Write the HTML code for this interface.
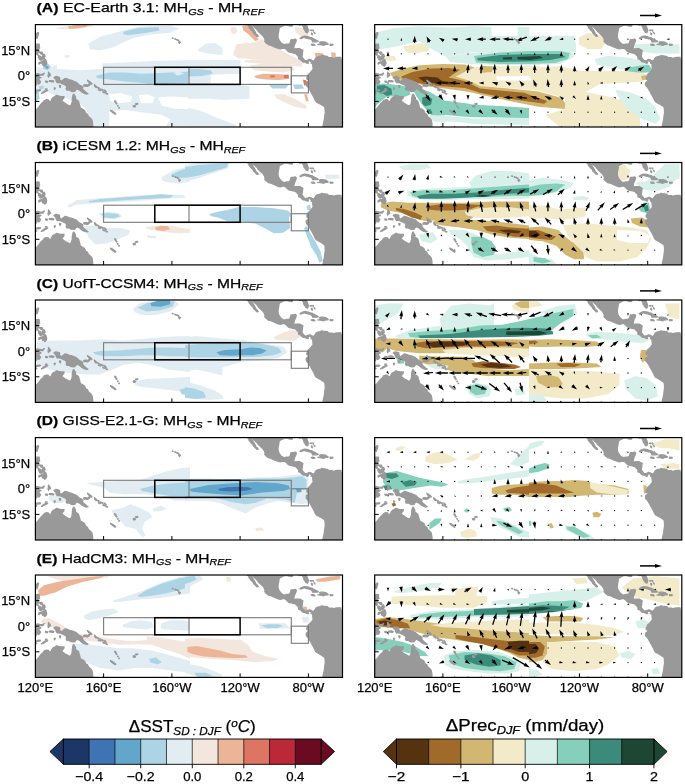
<!DOCTYPE html><html><head><meta charset="utf-8"><style>html,body{margin:0;padding:0;background:#fff}svg{display:block}text{font-family:"Liberation Sans",sans-serif;fill:#000;stroke:#000;stroke-width:0.25px}.tx{filter:grayscale(1)}</style></head><body>
<svg width="685" height="784" viewBox="0 0 685 784">
<defs><clipPath id="pc"><rect x="0" y="0" width="307.1" height="102.4"/></clipPath>
<g id="land" fill="#999999" stroke="#999999" stroke-width="1.3" stroke-linejoin="round">
<path d="M-1.7 85.0 L0.0 85.0 L1.7 84.5 L3.8 81.9 L5.1 80.2 L6.1 79.0 L7.7 77.7 L8.9 75.9 L11.1 75.1 L12.8 75.4 L14.0 76.8 L15.7 76.6 L16.5 74.4 L17.6 73.0 L18.4 72.4 L19.6 72.0 L21.3 70.8 L23.0 71.3 L24.7 71.7 L26.8 72.0 L28.7 72.0 L28.2 73.7 L27.1 74.8 L26.4 76.5 L28.2 77.8 L29.9 79.0 L31.6 79.9 L33.3 81.1 L35.1 81.2 L36.2 79.4 L36.9 76.8 L36.9 74.2 L37.2 72.5 L37.7 70.3 L38.4 69.5 L39.2 70.8 L40.1 72.5 L40.1 74.8 L41.8 75.6 L43.2 76.8 L43.5 78.5 L44.4 81.1 L44.9 83.6 L46.9 84.5 L49.1 86.0 L50.3 88.7 L52.0 89.6 L52.9 91.8 L55.4 93.9 L56.6 95.6 L57.2 99.0 L57.3 102.4 L57.3 104.1 L-1.7 104.1Z"/>
<path d="M18.6 52.9 L20.5 51.9 L23.0 52.4 L24.2 52.9 L24.1 55.0 L25.6 56.8 L26.4 56.3 L28.2 55.0 L29.9 53.8 L31.6 54.3 L34.1 55.3 L35.8 55.6 L38.4 56.7 L40.9 57.7 L42.7 59.4 L44.0 60.6 L46.1 61.4 L47.4 62.6 L46.9 64.0 L48.6 66.0 L50.3 67.4 L51.5 68.6 L52.5 69.1 L51.2 69.5 L48.6 68.6 L46.4 67.4 L44.7 65.7 L41.8 64.2 L40.1 65.4 L39.6 66.6 L37.5 66.9 L35.8 66.7 L33.3 65.2 L31.6 65.5 L30.7 64.0 L31.6 63.1 L30.4 60.6 L27.3 59.2 L24.7 58.0 L23.0 57.7 L21.8 58.0 L20.5 56.0 L22.7 55.3 L20.8 55.0 L19.3 53.8Z"/>
<path d="M48.3 60.6 L49.5 60.1 L51.2 60.2 L52.4 60.6 L53.4 59.6 L54.6 58.5 L55.1 58.9 L54.3 60.2 L53.4 61.1 L52.0 61.8 L50.3 61.6 L48.6 61.6Z"/>
<path d="M52.0 55.6 L53.7 56.7 L55.4 57.9 L56.6 59.1 L56.3 59.6 L54.6 58.7 L52.9 57.0Z"/>
<path d="M59.0 60.1 L60.6 61.4 L61.2 62.8 L60.7 63.0 L59.4 61.8Z"/>
<path d="M62.1 62.5 L63.8 63.5 L63.6 64.0 L62.3 63.1Z"/>
<path d="M64.8 64.2 L67.9 65.4 L67.6 65.9 L64.8 64.7Z"/>
<path d="M63.1 64.9 L65.2 65.7 L64.7 66.0 L63.0 65.4Z"/>
<path d="M67.6 67.1 L69.6 67.8 L69.3 68.3 L67.6 67.8Z"/>
<path d="M69.3 65.4 L70.8 67.1 L70.5 67.6 L69.1 66.0Z"/>
<path d="M70.5 68.6 L72.2 69.3 L71.8 69.6 L70.5 69.1Z"/>
<path d="M79.3 76.1 L80.5 76.8 L80.5 77.8 L79.5 77.5Z"/>
<path d="M80.5 78.3 L81.6 79.0 L81.2 79.5 L80.5 78.8Z"/>
<path d="M82.1 81.2 L82.7 81.1 L82.7 81.6 L82.2 81.6Z"/>
<path d="M83.4 83.1 L84.1 83.1 L83.9 83.6 L83.4 83.5Z"/>
<path d="M75.1 85.7 L76.8 86.4 L79.3 88.2 L80.4 89.3 L79.7 89.6 L77.6 88.2 L75.4 86.4Z"/>
<path d="M97.8 81.2 L99.0 80.7 L100.1 81.4 L99.6 82.3 L98.1 82.3Z"/>
<path d="M100.1 79.2 L102.2 78.8 L102.4 79.5 L100.7 80.0Z"/>
<path d="M1.0 19.6 L2.6 19.5 L3.8 19.6 L3.8 22.2 L4.3 23.4 L2.7 24.2 L2.6 26.5 L3.8 27.3 L5.1 27.6 L6.8 27.6 L7.2 29.0 L6.0 29.7 L5.1 28.7 L4.3 27.8 L2.9 27.5 L1.7 27.8 L1.0 26.8 L1.0 25.9 L0.0 25.6 L-0.3 23.4 L0.5 23.6 L0.7 21.3Z"/>
<path d="M0.5 28.2 L2.0 28.3 L2.6 29.7 L1.9 30.4 L0.9 29.5Z"/>
<path d="M7.3 29.9 L9.0 29.9 L9.7 32.1 L8.7 32.4 L7.5 31.4Z"/>
<path d="M7.5 31.6 L8.7 32.4 L9.0 33.8 L8.2 34.1 L7.3 32.8Z"/>
<path d="M3.2 30.9 L4.4 31.4 L5.5 32.1 L4.3 33.3 L3.2 33.3Z"/>
<path d="M4.8 32.6 L6.0 33.3 L5.5 35.7 L4.1 34.8 L4.4 33.3Z"/>
<path d="M6.7 31.9 L7.0 32.9 L6.0 35.0 L5.6 34.3 L6.5 32.8Z"/>
<path d="M6.5 33.8 L7.8 34.0 L7.7 34.8 L6.5 34.6Z"/>
<path d="M3.4 39.3 L3.6 37.9 L6.0 37.2 L7.2 36.5 L8.9 35.8 L9.4 34.5 L10.4 35.3 L11.3 38.4 L10.7 40.4 L9.4 41.6 L9.0 40.8 L7.2 40.3 L6.5 38.4 L5.1 38.4 L3.8 39.4Z"/>
<path d="M-1.7 33.8 L-0.3 31.9 L-0.9 33.3 L-3.4 35.8 L-4.8 36.9 L-4.1 35.5Z"/>
<path d="M0.2 11.9 L1.2 13.7 L1.7 13.7 L2.7 10.2 L3.2 8.5 L2.6 8.0 L1.7 8.5 L0.2 11.1Z"/>
<path d="M0.0 49.8 L1.5 49.0 L4.3 49.5 L6.8 49.7 L8.9 48.5 L7.7 50.5 L5.5 50.5 L2.6 50.3 L1.0 51.0 L0.2 52.6 L2.0 52.9 L4.6 52.6 L5.6 52.9 L3.1 54.3 L5.1 57.2 L3.9 59.1 L2.7 59.4 L1.9 56.3 L0.7 56.1 L1.5 57.5 L0.9 60.6 L-0.7 60.8 L-1.0 57.2 L-2.0 56.0 L-1.2 52.9 L-0.3 50.9Z"/>
<path d="M13.0 47.4 L13.8 48.6 L14.8 49.5 L14.0 50.5 L15.2 50.7 L13.6 51.7 L13.0 52.6 L12.6 50.9 L13.1 49.5Z"/>
<path d="M14.0 56.1 L16.2 56.0 L18.4 56.5 L18.1 57.3 L15.4 57.0 L14.0 56.8Z"/>
<path d="M10.2 56.5 L12.3 56.8 L11.9 57.7 L10.4 57.5Z"/>
<path d="M6.0 68.8 L7.7 67.4 L9.4 66.2 L12.3 65.5 L11.9 66.0 L8.9 67.6 L7.2 68.6Z"/>
<path d="M-0.3 65.9 L1.7 65.5 L3.9 65.2 L5.1 65.4 L4.8 65.9 L2.6 66.4 L0.0 66.4Z"/>
<path d="M-1.7 67.4 L0.0 67.2 L1.4 68.4 L0.5 68.8 L-1.4 67.9Z"/>
<path d="M10.1 64.2 L11.6 64.2 L11.1 64.7 L10.1 64.7Z"/>
<path d="M18.8 63.3 L20.0 63.5 L19.1 64.9Z"/>
<path d="M24.2 60.8 L25.3 61.1 L24.9 62.8 L24.1 62.1Z"/>
<path d="M-5.1 39.3 L-3.8 40.3 L-1.2 42.2 L-2.9 43.3 L-2.4 44.0 L-3.8 45.7 L-2.6 49.5 L-1.7 49.8 L-2.4 50.9 L-5.1 52.9 L-6.8 58.0 L-8.5 58.0Z"/>
<path d="M143.5 16.7 L145.0 17.6 L144.0 18.9 L143.3 17.7Z"/>
<path d="M142.1 15.4 L143.3 15.7 L143.0 16.0 L142.3 15.7Z"/>
<path d="M141.1 15.0 L142.1 15.0 L141.9 15.3 L141.1 15.2Z"/>
<path d="M139.4 14.3 L140.1 14.2 L140.6 14.8 L139.7 14.8Z"/>
<path d="M136.8 13.5 L137.5 13.3 L137.7 13.8 L137.2 13.8Z"/>
<path d="M211.7 -1.0 L211.9 0.0 L213.3 1.2 L213.8 3.1 L214.8 3.9 L215.8 5.5 L217.5 6.8 L218.2 8.5 L219.2 9.4 L221.5 11.8 L222.8 11.6 L222.0 10.2 L220.8 9.7 L219.7 7.2 L217.9 4.3 L217.0 2.6 L216.2 0.9 L214.5 -0.5 L213.9 -1.0Z"/>
<path d="M217.0 -1.0 L218.0 1.7 L220.1 3.6 L221.8 5.1 L223.2 7.2 L224.7 8.5 L227.8 11.4 L229.3 14.0 L229.8 16.2 L229.3 16.7 L230.5 18.1 L232.9 20.0 L235.6 20.7 L238.9 22.2 L242.3 23.6 L244.8 24.4 L247.4 23.6 L249.1 23.7 L250.8 24.7 L252.2 26.3 L253.7 27.5 L255.9 27.8 L257.6 28.3 L259.3 28.7 L260.2 29.0 L261.0 29.7 L261.9 30.7 L263.1 32.1 L263.3 33.3 L263.3 34.3 L264.4 34.6 L265.0 34.8 L266.2 35.8 L266.8 36.7 L268.0 37.4 L269.6 37.4 L270.9 38.2 L272.3 38.7 L273.0 38.2 L272.3 37.2 L273.8 36.0 L275.4 36.7 L276.2 37.7 L275.7 38.6 L276.7 38.7 L277.4 40.1 L277.4 41.8 L277.8 44.4 L277.2 45.4 L276.0 46.8 L275.0 48.1 L273.8 49.2 L272.8 50.0 L272.3 51.7 L271.4 53.1 L271.6 54.6 L273.0 55.1 L273.3 56.0 L272.5 57.0 L270.9 58.2 L270.8 59.9 L271.4 61.4 L273.1 63.0 L274.0 64.7 L275.2 66.6 L276.0 68.3 L277.1 70.0 L277.9 71.7 L279.1 73.9 L279.6 75.3 L281.0 77.3 L283.2 78.5 L285.8 79.9 L287.7 81.2 L289.4 82.4 L289.7 84.5 L289.9 87.9 L289.4 91.3 L289.0 94.7 L288.3 98.1 L287.7 100.7 L287.5 104.1 L308.8 104.1 L308.8 37.5 L307.1 36.7 L305.4 34.3 L303.9 34.0 L303.7 32.9 L302.0 32.9 L299.9 33.1 L298.6 34.0 L296.9 33.1 L295.2 33.1 L293.1 33.1 L292.1 31.7 L290.4 31.7 L289.7 31.4 L287.8 31.2 L286.3 30.9 L284.9 31.9 L283.2 31.9 L281.8 32.4 L280.5 33.3 L279.5 35.0 L278.4 36.5 L277.4 36.4 L275.5 35.2 L273.8 34.8 L272.1 35.7 L270.4 36.2 L269.2 35.8 L268.0 34.3 L266.8 32.8 L266.5 31.1 L267.0 29.9 L267.0 28.2 L267.5 25.8 L266.2 25.1 L264.4 24.1 L262.7 24.1 L260.2 24.2 L259.0 24.4 L258.3 23.6 L258.8 21.3 L259.3 19.6 L260.2 17.9 L260.9 15.4 L260.0 14.5 L258.5 14.7 L255.7 15.0 L255.2 16.6 L254.7 18.3 L253.5 19.5 L251.3 19.5 L249.1 20.1 L247.4 19.5 L245.7 18.4 L244.8 17.2 L243.5 15.4 L242.6 12.8 L242.6 10.2 L243.1 7.7 L243.6 5.1 L243.5 3.9 L244.8 2.6 L247.4 1.4 L249.1 0.5 L250.8 0.3 L252.5 0.7 L254.2 1.4 L255.9 1.5 L256.9 1.4 L257.1 0.0 L257.6 -0.7 L259.3 -0.9 L261.0 -0.7 L262.7 -0.7 L264.4 0.5 L266.2 0.0 L267.0 0.7 L268.2 2.6 L268.5 4.3 L269.6 6.0 L270.8 7.7 L272.1 8.2 L272.8 6.8 L272.8 5.1 L272.0 2.6 L271.1 0.7 L270.8 -1.7 L216.7 -1.7Z"/>
<path d="M264.6 13.8 L266.2 12.5 L267.9 11.9 L269.6 11.6 L271.3 11.8 L273.0 12.1 L274.7 13.0 L276.4 13.1 L278.1 14.2 L279.8 15.0 L280.5 15.4 L282.9 16.7 L282.4 17.1 L280.3 17.2 L277.2 17.2 L276.9 15.9 L275.5 14.5 L274.2 14.3 L272.1 13.7 L269.9 13.3 L269.6 12.6 L267.2 13.3 L265.6 14.0Z"/>
<path d="M282.4 19.8 L284.9 20.1 L286.6 20.3 L288.3 20.8 L289.2 20.1 L291.7 19.8 L292.8 19.5 L291.7 18.6 L290.2 17.6 L287.5 17.2 L285.3 17.2 L284.2 17.7 L285.4 18.8 L284.1 19.6Z"/>
<path d="M275.9 19.8 L278.1 19.6 L279.5 20.5 L278.4 20.8 L277.2 20.7 L275.9 20.1Z"/>
<path d="M294.8 19.6 L297.5 19.8 L297.4 20.5 L294.8 20.7Z"/>
<path d="M276.0 8.4 L276.9 8.9 L276.9 10.2 L276.2 9.7Z"/>
<path d="M277.6 5.3 L278.1 6.0 L277.8 6.5 L277.4 6.0Z"/>
<path d="M274.7 5.6 L276.4 5.6 L276.0 6.0 L274.7 5.8Z"/>
<path d="M278.6 7.7 L279.5 8.5 L279.6 9.0 L279.1 8.4Z"/>
<path d="M303.9 32.8 L305.4 32.8 L305.4 34.0 L303.9 34.0Z"/>
</g>
<g id="boxes" fill="none">
<rect x="68.2" y="42.7" width="187.7" height="17.1" stroke="#7a7a7a" stroke-width="1.1"/>
<line x1="153.6" y1="42.7" x2="153.6" y2="59.7" stroke="#7a7a7a" stroke-width="1.1"/>
<rect x="255.9" y="51.2" width="17.1" height="17.1" stroke="#7a7a7a" stroke-width="1.1"/>
<rect x="119.4" y="42.7" width="85.3" height="17.1" stroke="#000" stroke-width="1.5"/>
</g>
<path id="ticks" d="M68.2 102.4v-4 M136.5 102.4v-4 M204.7 102.4v-4 M273.0 102.4v-4 M0 25.6h4 M0 51.2h4 M0 76.8h4" stroke="#000" stroke-width="1" fill="none"/>
<marker id="ah" viewBox="0 0 10 10" refX="10" refY="5" markerWidth="4" markerHeight="3" orient="auto"><path d="M0 0L10 5L0 10z"/></marker>
</defs>
<g transform="translate(35.4 24.6)">
<g clip-path="url(#pc)">
<path d="M53.0 18.8 L64.7 12.2 L88.0 5.9 L104.4 1.9 L134.7 1.2 L144.1 3.6 L134.7 8.2 L116.1 9.9 L99.7 12.9 L88.0 17.6 L78.7 22.3 L64.7 25.8 L54.2 24.6Z" fill="#e2edf3"/>
<path d="M88.0 7.1 L102.0 3.6 L123.1 2.4 L124.2 5.9 L111.4 8.2 L92.7 10.6 L88.0 9.4Z" fill="#acd4e5"/>
<path d="M20.3 3.6 L29.6 1.9 L55.3 0.1 L57.7 1.9 L43.7 3.8 L27.3 4.7Z" fill="#f3e6dc"/>
<path d="M32.0 1.9 L41.3 0.5 L53.0 0.1 L50.7 2.4 L41.3 3.8 L34.3 4.3Z" fill="#ecb597"/>
<path d="M29.2 30.9 L33.8 30.4 L34.3 32.8 L29.6 33.2Z" fill="#f3e6dc"/>
<path d="M-1.4 42.2 L12.3 44.5 L21.4 40.0 L44.1 41.1 L66.9 38.8 L94.2 37.7 L117.0 36.5 L154.6 35.4 L154.6 101.4 L126.1 101.4 L101.1 99.2 L73.8 101.4 L66.9 101.4 L55.5 101.4 L51.0 85.5 L44.1 78.7 L32.8 74.1 L21.4 71.8 L12.3 67.3 L-1.4 67.3Z" fill="#e2edf3"/>
<path d="M73.8 69.6 L85.1 68.4 L96.5 71.8 L95.4 77.5 L82.9 78.7 L74.9 76.4Z" fill="#ffffff"/>
<path d="M103.4 70.7 L112.5 69.6 L119.3 73.0 L117.0 78.7 L105.6 78.7Z" fill="#ffffff"/>
<path d="M122.7 73.0 L135.2 71.8 L154.6 73.0 L154.6 84.4 L139.8 84.4 L126.1 80.9Z" fill="#ffffff"/>
<path d="M73.8 86.6 L89.7 85.5 L107.9 87.8 L126.1 90.1 L135.2 94.6 L130.7 101.4 L73.8 101.4Z" fill="#ffffff"/>
<path d="M21.4 37.7 L44.1 40.0 L66.9 38.1 L66.9 44.5 L44.1 45.6 L21.4 44.5Z" fill="#ffffff"/>
<path d="M60.1 51.3 L73.8 47.9 L89.7 47.9 L105.6 49.1 L119.3 48.6 L154.6 46.8 L154.6 58.2 L139.8 58.6 L119.3 60.5 L105.6 58.2 L89.7 57.0 L73.8 54.8 L62.4 53.6Z" fill="#acd4e5"/>
<path d="M137.5 47.9 L144.4 47.2 L148.9 49.1 L142.1 50.9Z" fill="#e2edf3"/>
<path d="M7.7 40.0 L12.3 38.8 L15.7 42.2 L12.3 45.6 L7.7 44.5Z" fill="#acd4e5"/>
<path d="M9.5 41.8 L12.3 41.1 L13.6 43.4 L11.1 44.5Z" fill="#62a7cb"/>
<path d="M-1.4 68.4 L3.2 67.3 L4.3 74.1 L0.9 76.4 L-1.4 76.4Z" fill="#acd4e5"/>
<path d="M3.2 61.6 L7.7 60.9 L8.8 63.9 L4.3 65.0Z" fill="#acd4e5"/>
<path d="M152.6 35.4 L205.0 35.4 L206.1 60.5 L214.1 61.6 L214.1 74.1 L186.8 75.3 L175.4 74.1 L152.6 74.1Z" fill="#e2edf3"/>
<path d="M175.4 50.2 L205.0 49.1 L205.0 59.3 L175.4 59.3Z" fill="#ffffff"/>
<path d="M152.6 74.6 L175.4 74.6 L186.8 78.7 L198.1 79.8 L207.3 80.9 L209.5 101.4 L200.4 101.4 L175.4 92.3 L152.6 82.1Z" fill="#ffffff"/>
<path d="M152.6 83.2 L166.3 86.6 L182.2 93.5 L200.4 100.3 L200.4 101.9 L152.6 101.9Z" fill="#e2edf3"/>
<path d="M152.6 44.5 L161.7 44.5 L175.4 45.6 L177.7 49.1 L166.3 51.3 L152.6 51.8Z" fill="#acd4e5"/>
<path d="M233.4 60.0 L243.7 59.3 L252.8 60.5 L250.5 63.9 L236.9 63.9Z" fill="#acd4e5"/>
<path d="M257.4 60.0 L266.5 60.0 L268.7 63.9 L259.6 64.6Z" fill="#acd4e5"/>
<path d="M214.1 41.1 L227.8 38.8 L243.7 40.0 L257.4 41.1 L259.6 45.6 L248.2 47.9 L232.3 46.8 L218.6 45.6Z" fill="#f3e6dc"/>
<path d="M209.5 35.4 L266.5 35.4 L266.5 42.2 L243.7 40.0 L220.9 38.8 L209.5 37.7Z" fill="#f3e6dc"/>
<path d="M218.6 51.3 L227.8 49.1 L239.1 49.5 L252.8 50.2 L253.9 54.1 L243.7 55.4 L230.0 54.8 L220.9 53.6Z" fill="#ecb597"/>
<path d="M234.6 50.9 L239.1 50.7 L239.6 52.7 L235.0 52.9Z" fill="#dc7561"/>
<path d="M248.2 50.4 L253.3 50.2 L253.3 53.6 L248.7 53.6Z" fill="#dc7561"/>
<path d="M267.6 54.8 L271.0 55.9 L272.2 60.5 L268.7 60.9Z" fill="#dc7561"/>
<path d="M239.1 69.6 L248.2 69.6 L259.6 74.1 L271.0 80.9 L271.0 84.4 L259.6 82.1 L248.2 77.5 L240.3 73.0Z" fill="#f3e6dc"/>
<path d="M268.7 69.6 L271.5 69.6 L273.3 76.4 L270.6 76.8Z" fill="#ecb597"/>
<path d="M195.1 2.9 L199.8 1.9 L202.2 7.1 L198.7 9.9 L195.8 8.2Z" fill="#f3e6dc"/>
<path d="M206.8 1.2 L213.8 0.1 L219.7 7.1 L223.2 15.3 L219.7 16.4 L212.7 9.4 L208.0 5.9Z" fill="#ecb597"/>
<path d="M197.5 30.4 L201.0 19.9 L206.8 18.8 L219.7 17.6 L226.7 14.1 L233.7 18.8 L243.0 23.4 L250.0 28.1 L259.4 32.8 L266.4 36.3 L271.1 36.3 L275.7 39.8 L268.7 38.6 L259.4 37.4 L250.0 36.3 L243.0 37.4 L238.4 36.3 L226.7 35.1 L217.3 35.1 L210.3 33.9 L203.3 33.9Z" fill="#f3e6dc"/>
<path d="M259.4 2.4 L271.1 3.6 L273.4 10.6 L266.4 11.8 L260.5 8.2Z" fill="#f3e6dc"/>
<path d="M279.2 28.1 L287.4 28.6 L289.7 32.3 L280.4 33.2Z" fill="#ecb597"/>
<path d="M295.6 27.6 L300.3 28.1 L300.3 32.8 L296.3 32.8Z" fill="#ecb597"/>
<path d="M162.4 24.6 L170.6 18.8 L180.0 18.3 L187.0 23.4 L187.0 30.4 L175.3 29.3 L163.6 26.9Z" fill="#e2edf3"/>
<use href="#land"/>
<use href="#boxes"/>
</g>
<use href="#ticks"/>
<rect x="0" y="0" width="307.1" height="102.4" fill="none" stroke="#000" stroke-width="1.2"/>
</g>
<g transform="translate(374.7 24.6)">
<g clip-path="url(#pc)">
<path d="M28.7 22.0 L44.6 18.6 L55.9 20.9 L53.6 26.6 L40.0 28.8 L31.0 27.7Z" fill="#f3eac9"/>
<path d="M9.5 32.2 L19.7 31.1 L21.9 35.6 L12.9 36.7Z" fill="#f3eac9"/>
<path d="M-0.7 8.4 L17.3 3.9 L44.3 1.7 L78.3 2.8 L99.3 1.4 L116.8 2.4 L116.8 11.1 L143.1 11.1 L143.1 2.4 L154.8 2.4 L154.8 11.1 L199.3 11.1 L201.3 19.4 L201.3 27.4 L99.3 27.4 L71.3 32.4 L55.3 23.4 L44.3 16.4 L21.9 22.0 L8.3 24.3 L1.6 24.3Z" fill="#d7f0ea"/>
<path d="M71.3 32.4 L95.3 28.4 L125.3 25.4 L155.3 23.4 L185.3 23.4 L197.3 25.4 L199.3 32.4 L185.3 39.4 L155.3 40.4 L125.3 40.4 L95.3 39.4 L75.3 37.4Z" fill="#d7f0ea"/>
<path d="M99.3 31.4 L125.3 27.9 L155.3 26.4 L185.3 26.4 L195.3 28.4 L193.3 34.4 L180.3 38.4 L155.3 39.4 L125.3 39.4 L101.3 37.9Z" fill="#86cfbb"/>
<path d="M102.3 33.4 L125.3 30.4 L155.3 29.4 L185.3 29.4 L191.3 32.4 L175.3 35.4 L155.3 36.9 L125.3 37.4 L103.3 35.9Z" fill="#3c8b7a"/>
<path d="M128.3 32.9 L137.3 32.4 L137.3 34.9 L128.3 34.9Z" fill="#1d4634"/>
<path d="M142.3 32.4 L165.3 31.4 L168.3 33.4 L155.3 35.4 L143.3 34.9Z" fill="#1d4634"/>
<path d="M-0.7 59.8 L8.1 59.0 L18.3 59.8 L28.5 61.2 L34.3 64.2 L35.8 70.0 L28.5 72.9 L25.6 75.8 L18.3 71.5 L11.0 72.9 L2.2 80.2 L-0.7 84.6Z" fill="#86cfbb"/>
<path d="M38.7 65.6 L46.0 64.2 L54.8 67.1 L62.1 71.5 L69.4 75.8 L81.1 77.3 L92.7 78.8 L99.3 80.2 L125.3 81.4 L154.3 83.4 L154.3 93.4 L125.3 92.9 L99.3 92.6 L86.9 91.9 L72.3 90.4 L57.7 91.9 L54.8 89.0 L47.5 80.2 L41.6 71.5Z" fill="#86cfbb"/>
<path d="M54.8 90.4 L72.3 91.2 L86.9 92.6 L99.3 94.1 L125.3 93.4 L154.3 93.4 L154.3 100.4 L99.3 99.4 L86.9 97.7 L72.3 97.0 L60.6 97.7 L56.2 94.8Z" fill="#d7f0ea"/>
<path d="M2.2 61.2 L9.5 60.5 L16.8 64.2 L17.5 70.0 L12.4 71.5 L6.6 68.5 L2.2 67.1Z" fill="#3c8b7a"/>
<path d="M47.5 72.9 L53.3 71.5 L57.7 74.4 L56.2 80.2 L50.4 81.7 L47.5 78.8Z" fill="#3c8b7a"/>
<path d="M51.9 84.6 L56.2 84.6 L57.7 89.0 L53.3 89.7Z" fill="#3c8b7a"/>
<path d="M78.3 45.4 L94.3 42.8 L112.3 41.7 L135.3 41.4 L154.3 41.4 L170.3 42.4 L185.3 41.4 L205.3 46.4 L245.3 46.4 L267.3 47.4 L275.3 53.4 L265.3 57.4 L225.3 59.4 L205.3 70.4 L190.3 73.4 L165.3 66.4 L134.3 63.4 L105.3 61.4 L94.3 55.9 L80.8 51.9Z" fill="#f3eac9"/>
<path d="M190.3 73.4 L205.3 70.4 L245.3 75.4 L265.3 85.4 L265.3 102.4 L185.3 102.4 L170.3 90.4 L190.3 84.4Z" fill="#f3eac9"/>
<path d="M121.3 51.9 L155.3 51.4 L156.3 55.8 L122.3 55.8Z" fill="#ffffff"/>
<path d="M15.1 48.5 L28.7 44.0 L44.6 40.6 L67.2 39.5 L89.8 39.9 L100.0 42.8 L89.8 47.4 L80.8 51.9 L94.3 55.9 L105.3 61.4 L134.3 63.9 L163.7 66.8 L187.1 73.4 L190.7 79.2 L190.0 84.3 L163.7 82.1 L134.5 76.3 L105.3 69.9 L94.3 67.4 L74.0 64.3 L55.9 62.1 L40.0 58.7 L26.5 55.3 L17.4 51.9Z" fill="#d2b772"/>
<path d="M105.3 41.2 L118.3 41.9 L117.3 47.4 L105.3 48.4Z" fill="#d2b772"/>
<path d="M26.5 51.9 L37.8 47.4 L55.9 44.0 L74.0 43.5 L85.3 45.1 L78.5 49.6 L74.0 53.0 L89.8 56.4 L105.3 63.9 L149.1 68.2 L172.5 76.3 L169.5 79.2 L134.5 74.1 L105.3 68.2 L90.3 63.4 L74.0 62.1 L55.9 60.9 L40.0 57.6 L28.7 54.8Z" fill="#a06a2b"/>
<path d="M43.4 53.0 L51.3 51.9 L62.7 53.0 L67.2 56.4 L60.4 58.7 L49.1 57.1Z" fill="#553210"/>
<path d="M62.7 55.7 L78.5 57.6 L85.3 59.4 L74.0 59.8 L64.9 58.7Z" fill="#553210"/>
<path d="M219.9 34.5 L233.5 31.1 L256.1 33.3 L272.0 37.9 L276.5 44.7 L267.4 48.0 L251.6 45.8 L235.8 42.4 L222.2 40.1Z" fill="#d7f0ea"/>
<path d="M251.6 43.5 L262.9 41.3 L274.2 40.1 L277.6 44.7 L274.2 48.0 L262.9 48.0 L253.9 46.9Z" fill="#86cfbb"/>
<path d="M258.4 19.8 L281.0 18.6 L304.8 19.8 L304.8 28.8 L281.0 28.8 L262.9 26.6Z" fill="#d7f0ea"/>
<path d="M204.1 13.0 L213.1 8.5 L226.7 10.7 L231.2 17.5 L226.7 24.3 L213.1 24.3 L204.1 19.8Z" fill="#f3eac9"/>
<path d="M190.5 67.3 L210.9 67.3 L233.5 71.8 L249.3 76.3 L262.9 83.1 L249.3 87.6 L222.2 86.5 L199.6 85.4 L190.5 80.9Z" fill="#f3eac9"/>
<path d="M266.3 51.4 L272.0 50.3 L272.0 54.8 L267.4 55.5Z" fill="#d2b772"/>
<path d="M240.3 65.0 L253.9 67.3 L272.0 74.1 L281.0 83.1 L285.5 94.4 L281.0 99.0 L267.4 94.4 L253.9 85.4 L244.8 74.1Z" fill="#d7f0ea"/>
<path d="M12.68 14.60a0.65 0.65 0 1 0 1.30 0a0.65 0.65 0 1 0 -1.30 0ZM27.0 16.1L27.0 15.8L27.6 16.1L26.7 13.1L25.8 16.1L26.4 15.8L26.4 16.1ZM40.6 18.1L40.6 16.9L41.9 17.6L40.0 11.1L38.0 17.6L39.3 16.9L39.3 18.1ZM55.4 17.3L55.0 16.5L56.5 16.5L51.8 11.6L53.0 18.3L53.9 17.1L54.2 17.9ZM69.5 15.6L69.0 15.3L70.1 14.6L64.2 13.1L68.2 17.6L68.4 16.3L68.9 16.6ZM83.1 14.5L82.5 14.4L83.3 13.3L77.0 14.1L82.7 16.9L82.3 15.6L82.9 15.7ZM96.3 14.0L95.7 14.0L96.3 12.8L90.3 14.6L96.3 16.4L95.7 15.2L96.3 15.2ZM111.1 13.9L108.0 13.9L108.6 12.6L102.1 14.6L108.6 16.6L108.0 15.2L111.1 15.2ZM125.5 13.9L120.3 13.9L121.0 12.6L114.5 14.6L121.0 16.6L120.3 15.2L125.5 15.2ZM138.9 14.5L133.7 14.0L134.4 12.7L127.8 14.1L134.1 16.6L133.6 15.3L138.7 15.7ZM151.9 12.0L146.4 14.0L146.6 12.5L141.1 16.6L147.9 16.2L146.8 15.2L152.4 13.2ZM164.2 12.0L160.5 13.6L160.6 12.2L155.5 16.6L162.2 15.7L161.1 14.8L164.7 13.2ZM176.5 12.5L174.9 13.2L175.0 11.7L169.8 16.1L176.5 15.3L175.4 14.4L177.0 13.7ZM188.5 13.7L188.1 13.8L188.3 12.9L184.6 15.1L188.9 15.3L188.3 14.6L188.7 14.5ZM199.30 14.60a0.65 0.65 0 1 0 1.30 0a0.65 0.65 0 1 0 -1.30 0ZM212.63 14.60a0.65 0.65 0 1 0 1.30 0a0.65 0.65 0 1 0 -1.30 0ZM239.29 14.60a0.65 0.65 0 1 0 1.30 0a0.65 0.65 0 1 0 -1.30 0ZM252.62 14.60a0.65 0.65 0 1 0 1.30 0a0.65 0.65 0 1 0 -1.30 0ZM265.95 14.60a0.65 0.65 0 1 0 1.30 0a0.65 0.65 0 1 0 -1.30 0ZM279.28 14.60a0.65 0.65 0 1 0 1.30 0a0.65 0.65 0 1 0 -1.30 0ZM294.8 14.3L294.5 14.3L294.8 13.7L291.8 14.6L294.8 15.5L294.5 14.9L294.8 14.9ZM13.8 31.7L13.8 31.2L14.8 31.7L13.3 26.7L11.8 31.7L12.8 31.2L12.8 31.7ZM26.01 29.20a0.65 0.65 0 1 0 1.30 0a0.65 0.65 0 1 0 -1.30 0ZM39.34 29.20a0.65 0.65 0 1 0 1.30 0a0.65 0.65 0 1 0 -1.30 0ZM52.67 29.20a0.65 0.65 0 1 0 1.30 0a0.65 0.65 0 1 0 -1.30 0ZM66.00 29.20a0.65 0.65 0 1 0 1.30 0a0.65 0.65 0 1 0 -1.30 0ZM79.33 29.20a0.65 0.65 0 1 0 1.30 0a0.65 0.65 0 1 0 -1.30 0ZM93.5 30.2L93.5 30.0L93.9 30.2L93.3 28.2L92.7 30.2L93.1 30.0L93.1 30.2ZM105.99 29.20a0.65 0.65 0 1 0 1.30 0a0.65 0.65 0 1 0 -1.30 0ZM120.2 30.2L120.2 30.0L120.6 30.2L120.0 28.2L119.4 30.2L119.8 30.0L119.8 30.2ZM132.65 29.20a0.65 0.65 0 1 0 1.30 0a0.65 0.65 0 1 0 -1.30 0ZM145.98 29.20a0.65 0.65 0 1 0 1.30 0a0.65 0.65 0 1 0 -1.30 0ZM160.3 30.7L160.3 30.4L160.9 30.7L160.0 27.7L159.1 30.7L159.7 30.4L159.7 30.7ZM173.6 30.7L173.6 30.4L174.2 30.7L173.3 27.7L172.4 30.7L173.0 30.4L173.0 30.7ZM187.1 31.7L187.1 31.2L188.1 31.7L186.6 26.7L185.1 31.7L186.1 31.2L186.1 31.7ZM199.30 29.20a0.65 0.65 0 1 0 1.30 0a0.65 0.65 0 1 0 -1.30 0ZM212.63 29.20a0.65 0.65 0 1 0 1.30 0a0.65 0.65 0 1 0 -1.30 0ZM225.96 29.20a0.65 0.65 0 1 0 1.30 0a0.65 0.65 0 1 0 -1.30 0ZM239.29 29.20a0.65 0.65 0 1 0 1.30 0a0.65 0.65 0 1 0 -1.30 0ZM252.62 29.20a0.65 0.65 0 1 0 1.30 0a0.65 0.65 0 1 0 -1.30 0ZM265.95 29.20a0.65 0.65 0 1 0 1.30 0a0.65 0.65 0 1 0 -1.30 0ZM18.3 43.1L14.2 43.1L14.8 41.8L8.3 43.8L14.8 45.8L14.2 44.4L18.3 44.4ZM31.1 42.9L28.0 43.1L28.5 41.7L22.2 44.0L28.8 45.6L28.0 44.4L31.2 44.2ZM42.9 42.9L42.3 43.0L42.8 41.8L37.0 44.0L43.1 45.3L42.4 44.2L43.0 44.1ZM52.67 43.80a0.65 0.65 0 1 0 1.30 0a0.65 0.65 0 1 0 -1.30 0ZM67.0 45.3L67.0 45.0L67.6 45.3L66.7 42.3L65.8 45.3L66.4 45.0L66.4 45.3ZM80.6 46.8L80.6 46.2L81.8 46.8L80.0 40.8L78.2 46.8L79.4 46.2L79.4 46.8ZM93.5 48.4L93.8 45.2L95.0 46.0L93.8 39.3L91.2 45.5L92.5 45.0L92.2 48.2ZM106.8 48.9L107.2 44.7L108.4 45.5L107.1 38.8L104.6 45.1L105.9 44.6L105.5 48.7ZM120.6 48.8L120.6 44.6L121.9 45.3L120.0 38.8L118.0 45.3L119.3 44.6L119.3 48.8ZM134.0 48.3L134.0 45.1L135.2 45.8L133.3 39.3L131.4 45.8L132.7 45.1L132.7 48.3ZM147.3 48.3L147.3 45.1L148.6 45.8L146.6 39.3L144.7 45.8L146.0 45.1L146.0 48.3ZM160.6 48.3L160.6 45.1L161.9 45.8L160.0 39.3L158.0 45.8L159.3 45.1L159.3 48.3ZM173.9 48.3L173.9 45.1L175.2 45.8L173.3 39.3L171.3 45.8L172.6 45.1L172.6 48.3ZM187.3 47.8L187.3 45.6L188.6 46.3L186.6 39.8L184.7 46.3L186.0 45.6L186.0 47.8ZM200.5 46.8L200.5 46.2L201.8 46.8L199.9 40.8L198.1 46.8L199.3 46.2L199.3 46.8ZM212.3 46.6L212.6 46.1L213.3 47.2L214.8 41.3L210.3 45.4L211.6 45.5L211.3 46.0ZM224.6 46.8L225.4 45.9L225.9 47.3L229.1 41.3L223.1 44.5L224.5 45.0L223.7 45.8ZM237.9 46.8L238.8 45.9L239.2 47.3L242.4 41.3L236.5 44.5L237.8 45.0L237.0 45.8ZM250.6 46.3L251.8 45.6L251.9 47.0L256.3 41.8L249.8 43.8L251.0 44.5L249.9 45.3ZM264.0 46.3L265.1 45.6L265.3 47.0L269.6 41.8L263.1 43.8L264.4 44.5L263.2 45.3ZM12.68 58.40a0.65 0.65 0 1 0 1.30 0a0.65 0.65 0 1 0 -1.30 0ZM26.01 58.40a0.65 0.65 0 1 0 1.30 0a0.65 0.65 0 1 0 -1.30 0ZM39.34 58.40a0.65 0.65 0 1 0 1.30 0a0.65 0.65 0 1 0 -1.30 0ZM55.8 57.9L55.3 57.9L55.8 56.9L50.8 58.4L55.8 59.9L55.3 58.9L55.8 58.9ZM73.2 57.8L66.0 57.8L66.7 56.4L60.2 58.4L66.7 60.4L66.0 59.0L73.2 59.0ZM85.5 58.3L80.4 57.8L81.1 56.5L74.5 57.9L80.8 60.4L80.2 59.1L85.4 59.5ZM97.8 57.8L94.7 57.8L95.3 56.4L88.8 58.4L95.3 60.4L94.7 59.0L97.8 59.0ZM109.1 57.9L108.6 57.9L109.1 56.9L104.1 58.4L109.1 59.9L108.6 58.9L109.1 58.9ZM123.2 58.8L122.6 58.6L123.6 57.6L117.0 57.4L122.4 61.2L122.2 59.8L122.8 60.0ZM136.1 59.4L135.6 59.1L136.7 58.4L130.8 56.9L134.9 61.4L135.0 60.1L135.5 60.4ZM149.1 60.5L148.7 60.0L150.1 59.7L144.6 55.9L147.1 62.1L147.7 60.8L148.1 61.3ZM162.1 61.6L161.4 60.0L162.8 60.1L158.5 54.9L159.2 61.6L160.2 60.5L160.9 62.2ZM174.4 62.3L174.2 60.1L175.5 60.6L172.8 54.4L171.7 61.1L172.9 60.3L173.1 62.5ZM187.3 62.4L187.3 60.2L188.6 60.9L186.6 54.4L184.7 60.9L186.0 60.2L186.0 62.4ZM200.4 60.9L200.4 60.4L201.4 60.9L199.9 55.9L198.4 60.9L199.4 60.4L199.4 60.9ZM214.1 59.8L214.0 59.5L214.7 59.6L212.8 56.9L212.9 60.2L213.4 59.7L213.5 60.0ZM228.1 58.1L227.8 58.1L228.1 57.5L225.1 58.4L228.1 59.3L227.8 58.7L228.1 58.7ZM239.29 58.40a0.65 0.65 0 1 0 1.30 0a0.65 0.65 0 1 0 -1.30 0ZM252.62 58.40a0.65 0.65 0 1 0 1.30 0a0.65 0.65 0 1 0 -1.30 0ZM265.95 58.40a0.65 0.65 0 1 0 1.30 0a0.65 0.65 0 1 0 -1.30 0ZM12.68 73.00a0.65 0.65 0 1 0 1.30 0a0.65 0.65 0 1 0 -1.30 0ZM26.01 73.00a0.65 0.65 0 1 0 1.30 0a0.65 0.65 0 1 0 -1.30 0ZM38.2 71.8L38.5 72.1L37.6 72.4L41.5 74.5L39.4 70.6L39.1 71.5L38.8 71.2ZM50.3 69.6L52.0 72.2L50.6 72.4L55.8 76.8L53.8 70.3L53.1 71.5L51.4 68.9ZM64.1 70.6L64.7 71.4L63.2 71.6L68.7 75.8L66.4 69.3L65.7 70.6L65.2 69.9ZM78.9 70.3L79.0 70.9L77.8 70.5L80.5 75.8L81.1 70.0L80.1 70.7L80.0 70.2ZM92.8 70.5L92.8 71.0L91.8 70.5L93.3 75.5L94.8 70.5L93.8 71.0L93.8 70.5ZM109.0 72.0L108.5 72.1L108.8 71.0L104.1 73.5L109.4 74.0L108.7 73.1L109.2 73.0ZM123.9 71.6L121.6 72.0L122.0 70.6L116.0 73.8L122.7 74.5L121.8 73.3L124.1 72.9ZM137.8 72.3L134.7 72.3L135.3 71.0L128.8 73.0L135.3 75.0L134.7 73.7L137.8 73.7ZM152.2 72.9L147.0 72.4L147.8 71.1L141.1 72.5L147.4 75.0L146.9 73.7L152.1 74.1ZM164.7 73.9L161.2 72.7L162.2 71.7L155.5 71.5L161.0 75.4L160.8 74.0L164.3 75.1ZM177.0 73.9L175.4 73.2L176.5 72.3L169.8 71.5L175.0 75.9L174.9 74.4L176.5 75.1ZM188.9 74.1L188.5 73.8L189.5 73.3L184.6 71.5L187.7 75.7L187.9 74.6L188.3 74.9ZM198.1 71.8L198.4 72.1L197.5 72.4L201.4 74.5L199.3 70.6L199.1 71.5L198.8 71.2ZM213.8 75.5L213.8 75.0L214.8 75.5L213.3 70.5L211.8 75.5L212.8 75.0L212.8 75.5ZM227.0 75.0L227.0 74.6L227.8 75.0L226.6 71.0L225.4 75.0L226.2 74.6L226.2 75.0ZM241.3 73.2L241.0 73.2L241.5 72.8L238.7 72.5L240.9 74.2L240.8 73.7L241.1 73.8ZM254.5 72.8L254.3 72.8L254.5 72.2L252.0 73.0L254.5 73.8L254.3 73.2L254.5 73.2ZM267.9 72.8L267.6 72.8L267.9 72.2L265.4 73.0L267.9 73.8L267.6 73.2L267.9 73.2ZM279.28 73.00a0.65 0.65 0 1 0 1.30 0a0.65 0.65 0 1 0 -1.30 0ZM39.34 87.60a0.65 0.65 0 1 0 1.30 0a0.65 0.65 0 1 0 -1.30 0ZM52.0 86.3L52.2 86.6L51.4 86.7L54.3 89.1L53.2 85.5L52.8 86.2L52.6 85.9ZM65.9 86.2L66.0 86.5L65.2 86.4L67.2 89.1L67.1 85.8L66.5 86.3L66.5 86.0ZM78.2 86.4L78.5 86.7L77.6 87.0L81.5 89.1L79.4 85.2L79.1 86.1L78.8 85.8ZM91.4 85.9L91.7 86.3L90.6 86.5L94.8 89.6L93.0 84.7L92.5 85.7L92.2 85.3ZM104.2 86.0L104.6 86.4L103.4 86.8L108.6 89.6L105.8 84.4L105.4 85.6L105.0 85.2ZM116.6 85.6L118.1 86.9L116.7 87.4L123.0 90.1L119.2 84.4L118.9 85.9L117.4 84.6ZM130.3 85.0L131.6 86.5L130.1 86.9L135.8 90.6L133.1 84.4L132.6 85.7L131.3 84.2ZM145.7 85.7L145.8 86.1L144.9 85.9L147.1 89.6L147.3 85.3L146.6 85.9L146.5 85.5ZM159.31 87.60a0.65 0.65 0 1 0 1.30 0a0.65 0.65 0 1 0 -1.30 0ZM172.64 87.60a0.65 0.65 0 1 0 1.30 0a0.65 0.65 0 1 0 -1.30 0ZM185.97 87.60a0.65 0.65 0 1 0 1.30 0a0.65 0.65 0 1 0 -1.30 0ZM199.30 87.60a0.65 0.65 0 1 0 1.30 0a0.65 0.65 0 1 0 -1.30 0ZM212.63 87.60a0.65 0.65 0 1 0 1.30 0a0.65 0.65 0 1 0 -1.30 0ZM225.96 87.60a0.65 0.65 0 1 0 1.30 0a0.65 0.65 0 1 0 -1.30 0ZM239.29 87.60a0.65 0.65 0 1 0 1.30 0a0.65 0.65 0 1 0 -1.30 0ZM252.62 87.60a0.65 0.65 0 1 0 1.30 0a0.65 0.65 0 1 0 -1.30 0ZM265.95 87.60a0.65 0.65 0 1 0 1.30 0a0.65 0.65 0 1 0 -1.30 0ZM279.28 87.60a0.65 0.65 0 1 0 1.30 0a0.65 0.65 0 1 0 -1.30 0ZM52.67 102.20a0.65 0.65 0 1 0 1.30 0a0.65 0.65 0 1 0 -1.30 0ZM66.00 102.20a0.65 0.65 0 1 0 1.30 0a0.65 0.65 0 1 0 -1.30 0ZM79.33 102.20a0.65 0.65 0 1 0 1.30 0a0.65 0.65 0 1 0 -1.30 0ZM92.66 102.20a0.65 0.65 0 1 0 1.30 0a0.65 0.65 0 1 0 -1.30 0ZM105.99 102.20a0.65 0.65 0 1 0 1.30 0a0.65 0.65 0 1 0 -1.30 0ZM119.32 102.20a0.65 0.65 0 1 0 1.30 0a0.65 0.65 0 1 0 -1.30 0ZM132.65 102.20a0.65 0.65 0 1 0 1.30 0a0.65 0.65 0 1 0 -1.30 0ZM145.98 102.20a0.65 0.65 0 1 0 1.30 0a0.65 0.65 0 1 0 -1.30 0ZM159.31 102.20a0.65 0.65 0 1 0 1.30 0a0.65 0.65 0 1 0 -1.30 0ZM172.64 102.20a0.65 0.65 0 1 0 1.30 0a0.65 0.65 0 1 0 -1.30 0ZM185.97 102.20a0.65 0.65 0 1 0 1.30 0a0.65 0.65 0 1 0 -1.30 0ZM199.30 102.20a0.65 0.65 0 1 0 1.30 0a0.65 0.65 0 1 0 -1.30 0ZM212.63 102.20a0.65 0.65 0 1 0 1.30 0a0.65 0.65 0 1 0 -1.30 0ZM225.96 102.20a0.65 0.65 0 1 0 1.30 0a0.65 0.65 0 1 0 -1.30 0ZM239.29 102.20a0.65 0.65 0 1 0 1.30 0a0.65 0.65 0 1 0 -1.30 0ZM252.62 102.20a0.65 0.65 0 1 0 1.30 0a0.65 0.65 0 1 0 -1.30 0ZM265.95 102.20a0.65 0.65 0 1 0 1.30 0a0.65 0.65 0 1 0 -1.30 0Z" fill="#000"/>
<use href="#land"/>
</g>
<use href="#ticks"/>
<rect x="0" y="0" width="307.1" height="102.4" fill="none" stroke="#000" stroke-width="1.2"/>
</g>
<path d="M640 15.5H656" stroke="#000" stroke-width="1.5"/><path d="M655 13.6L662 15.5L655 17.4Z" fill="#000"/>
<g transform="translate(35.4 162.5)">
<g clip-path="url(#pc)">
<path d="M32.0 43.4 L41.3 37.5 L64.7 35.7 L99.7 32.9 L125.4 31.7 L148.8 32.4 L149.9 35.2 L125.4 36.4 L99.7 38.7 L64.7 40.3 L41.3 42.2 L34.3 45.0Z" fill="#e2edf3"/>
<path d="M53.0 38.7 L64.7 36.4 L99.7 34.0 L125.4 31.7 L138.2 32.9 L134.7 35.2 L99.7 37.1 L64.7 39.4 L54.2 39.9Z" fill="#acd4e5"/>
<path d="M126.6 14.2 L139.4 7.2 L154.6 3.7 L154.6 18.9 L144.1 21.2 L132.4 20.0 L126.6 17.7Z" fill="#e2edf3"/>
<path d="M135.9 11.9 L144.1 8.3 L154.6 4.8 L154.6 14.2 L146.4 15.4 L137.1 14.2Z" fill="#acd4e5"/>
<path d="M63.5 51.1 L71.7 49.2 L83.4 50.4 L86.9 53.9 L78.7 56.7 L67.0 55.8Z" fill="#e2edf3"/>
<path d="M65.8 51.6 L71.7 50.4 L82.2 51.6 L84.5 53.9 L78.7 55.8 L69.3 55.1Z" fill="#acd4e5"/>
<path d="M48.3 63.2 L60.0 63.2 L71.7 65.6 L85.7 65.6 L95.0 67.9 L92.7 72.6 L81.0 77.3 L71.7 80.8 L60.0 81.9 L53.0 74.9Z" fill="#e2edf3"/>
<path d="M110.2 64.4 L120.7 63.2 L134.7 63.2 L146.4 65.6 L154.6 66.7 L154.6 70.2 L144.1 70.7 L130.1 69.8 L116.1 67.4 L110.7 66.0Z" fill="#f3e6dc"/>
<path d="M119.6 65.1 L125.4 63.2 L132.4 63.7 L134.7 66.7 L127.7 68.4 L120.7 67.4Z" fill="#ecb597"/>
<path d="M111.4 72.6 L120.7 73.7 L120.7 76.1 L112.6 75.4Z" fill="#e2edf3"/>
<path d="M149.6 2.5 L163.6 0.6 L180.0 -0.3 L194.0 -0.3 L192.8 6.0 L180.0 10.0 L163.6 15.4 L149.6 18.9Z" fill="#e2edf3"/>
<path d="M149.6 4.8 L163.6 2.5 L180.0 1.3 L192.8 0.6 L191.6 4.8 L180.0 8.3 L163.6 13.0 L149.6 15.4Z" fill="#acd4e5"/>
<path d="M174.1 51.6 L182.3 49.2 L191.6 47.4 L203.3 44.6 L219.7 44.6 L238.4 45.7 L252.4 48.1 L255.9 51.6 L253.5 55.1 L254.7 65.6 L247.7 70.2 L238.4 70.7 L229.0 65.6 L219.7 60.9 L204.5 59.7 L191.6 58.6 L182.3 55.1 L175.3 53.4Z" fill="#acd4e5"/>
<path d="M271.1 63.2 L273.4 67.9 L280.4 79.6 L285.1 88.9 L287.4 98.3 L283.9 100.6 L281.6 93.6 L275.7 84.3 L271.1 72.6 L268.7 65.6Z" fill="#acd4e5"/>
<path d="M271.1 43.4 L274.6 42.2 L275.7 46.9 L272.2 48.1Z" fill="#acd4e5"/>
<path d="M289.7 12.3 L303.8 11.9 L304.2 16.1 L290.9 16.5Z" fill="#e2edf3"/>
<use href="#land"/>
<use href="#boxes"/>
</g>
<use href="#ticks"/>
<rect x="0" y="0" width="307.1" height="102.4" fill="none" stroke="#000" stroke-width="1.2"/>
</g>
<g transform="translate(374.7 162.5)">
<g clip-path="url(#pc)">
<path d="M24.2 4.0 L35.5 1.8 L53.6 1.8 L55.9 5.2 L44.6 7.4 L28.7 7.4Z" fill="#d7f0ea"/>
<path d="M94.3 19.9 L101.1 13.1 L117.0 8.6 L135.1 8.6 L154.3 10.8 L154.3 24.4 L135.1 24.4 L112.4 24.4 L96.6 24.4Z" fill="#d7f0ea"/>
<path d="M32.1 28.9 L44.6 26.7 L67.2 25.5 L94.3 24.4 L117.0 23.3 L135.1 22.1 L154.3 21.0 L154.3 35.7 L135.1 36.8 L112.4 36.8 L89.8 36.8 L67.2 38.0 L44.6 36.8 L33.2 33.4Z" fill="#d7f0ea"/>
<path d="M35.5 30.0 L49.1 27.8 L71.7 27.8 L94.3 26.2 L117.0 24.4 L135.1 23.3 L154.3 22.1 L154.3 33.4 L135.1 33.4 L112.4 34.6 L89.8 35.3 L67.2 35.7 L44.6 35.7 L37.8 33.4Z" fill="#86cfbb"/>
<path d="M42.3 33.4 L55.9 31.2 L78.5 31.2 L101.1 30.0 L123.8 27.8 L141.9 26.2 L154.3 25.5 L154.3 30.0 L135.1 31.2 L112.4 33.4 L89.8 35.3 L67.2 36.2 L44.6 36.2Z" fill="#3c8b7a"/>
<path d="M98.9 33.4 L107.9 32.3 L117.0 33.4 L107.9 34.6Z" fill="#1d4634"/>
<path d="M6.1 41.4 L17.4 39.1 L33.2 40.2 L55.9 40.2 L89.8 40.2 L117.0 39.1 L135.1 39.1 L154.3 39.1 L154.3 48.1 L135.1 48.1 L117.0 48.1 L101.1 52.7 L94.3 57.9 L74.0 56.5 L60.4 57.9 L51.3 58.8 L44.6 57.2 L26.5 50.4 L12.9 48.1 L6.1 44.8Z" fill="#d2b772"/>
<path d="M53.6 43.6 L67.2 41.4 L89.8 41.4 L107.9 42.5 L94.3 47.0 L78.5 48.1 L62.7 48.1 L53.6 47.0Z" fill="#a06a2b"/>
<path d="M89.8 49.3 L103.4 45.9 L117.0 44.8 L135.1 44.8 L154.3 47.0 L154.3 53.8 L135.1 54.9 L117.0 56.1 L101.1 54.9 L92.1 52.7Z" fill="#f3eac9"/>
<path d="M60.4 57.2 L74.0 56.1 L94.3 57.2 L112.4 58.3 L135.1 60.6 L154.3 62.9 L154.3 76.4 L135.1 75.3 L117.0 71.9 L101.1 67.4 L85.3 65.1 L67.2 62.9 L58.1 60.6Z" fill="#d2b772"/>
<path d="M107.9 64.0 L121.5 62.9 L135.1 65.1 L154.3 66.3 L154.3 74.2 L139.6 74.2 L126.0 70.8 L112.4 68.5Z" fill="#a06a2b"/>
<path d="M123.8 67.4 L135.1 66.9 L146.4 68.5 L144.1 70.8 L130.5 70.1Z" fill="#553210"/>
<path d="M44.6 71.9 L58.1 69.6 L62.7 76.4 L55.9 81.0 L46.8 78.7Z" fill="#d7f0ea"/>
<path d="M74.0 67.4 L89.8 67.4 L101.1 71.9 L105.7 76.4 L101.1 85.5 L112.4 90.0 L126.0 92.3 L135.1 90.0 L154.3 87.7 L154.3 94.5 L135.1 96.8 L112.4 97.9 L98.9 94.5 L92.1 83.2 L85.3 76.4 L76.2 71.9Z" fill="#d7f0ea"/>
<path d="M96.6 74.2 L107.9 74.2 L117.0 78.7 L121.5 85.5 L119.2 92.3 L107.9 94.5 L98.9 90.0 L96.6 81.0Z" fill="#86cfbb"/>
<path d="M21.2 45.5 L28.5 46.2 L40.2 49.9 L47.5 53.5 L46.0 57.2 L37.3 55.0 L27.0 49.9 L21.2 47.7Z" fill="#a06a2b"/>
<path d="M154.3 17.6 L167.9 15.3 L188.2 17.6 L199.6 21.0 L192.8 26.7 L176.9 31.2 L163.4 33.4 L154.3 33.4Z" fill="#d7f0ea"/>
<path d="M154.3 24.4 L165.6 22.1 L181.5 21.0 L190.5 22.1 L181.5 28.9 L167.9 32.3 L154.3 33.4Z" fill="#86cfbb"/>
<path d="M197.3 34.6 L208.6 33.4 L215.4 35.7 L210.9 38.0 L199.6 37.5Z" fill="#d7f0ea"/>
<path d="M240.3 6.3 L249.3 1.8 L256.1 8.6 L251.6 17.6 L244.8 17.6Z" fill="#f3eac9"/>
<path d="M281.0 8.6 L294.6 6.3 L304.8 8.6 L304.8 16.5 L290.1 15.3Z" fill="#f3eac9"/>
<path d="M260.7 19.9 L272.0 18.7 L290.1 1.8 L304.8 1.8 L304.8 13.1 L294.6 24.4 L281.0 28.9 L267.4 26.7Z" fill="#d7f0ea"/>
<path d="M262.9 44.8 L269.7 40.2 L274.2 40.2 L275.4 47.0 L272.0 50.4 L266.3 49.3Z" fill="#86cfbb"/>
<path d="M268.6 43.6 L273.1 42.5 L274.2 48.1 L270.8 49.3Z" fill="#3c8b7a"/>
<path d="M154.3 42.5 L172.4 43.6 L183.7 47.0 L199.6 45.9 L210.9 44.8 L210.9 53.8 L199.6 56.1 L188.2 57.2 L176.9 56.1 L154.3 56.1Z" fill="#f3eac9"/>
<path d="M188.2 62.9 L210.9 60.6 L233.5 62.9 L256.1 65.1 L272.0 67.4 L276.5 76.4 L272.0 85.5 L262.9 94.5 L244.8 99.1 L222.2 99.1 L210.9 94.5 L204.1 85.5 L195.0 76.4Z" fill="#f3eac9"/>
<path d="M256.1 56.1 L267.4 54.9 L273.1 58.3 L274.2 65.1 L265.2 64.0 L257.3 60.6Z" fill="#d2b772"/>
<path d="M154.3 65.1 L167.9 64.0 L183.7 67.4 L190.5 74.2 L199.6 81.0 L208.6 90.0 L209.7 96.8 L199.6 96.8 L190.5 92.3 L181.5 83.2 L167.9 78.7 L154.3 77.6Z" fill="#d2b772"/>
<path d="M154.3 67.4 L163.4 67.4 L172.4 70.8 L181.5 74.2 L176.9 77.6 L165.6 76.4 L154.3 75.3Z" fill="#a06a2b"/>
<path d="M154.3 68.5 L161.1 68.5 L165.6 71.9 L161.1 75.3 L154.3 74.2Z" fill="#553210"/>
<path d="M154.3 90.0 L163.4 94.5 L176.9 96.8 L181.5 101.3 L167.9 102.5 L154.3 101.3Z" fill="#d7f0ea"/>
<path d="M158.8 94.5 L170.1 95.7 L176.9 99.1 L167.9 100.9 L158.8 99.1Z" fill="#86cfbb"/>
<path d="M242.3 67.5 L265.3 68.5 L275.3 73.5 L273.3 80.5 L255.3 80.5 L242.3 77.5Z" fill="#ffffff"/>
<path d="M12.68 14.60a0.65 0.65 0 1 0 1.30 0a0.65 0.65 0 1 0 -1.30 0ZM25.2 17.5L25.6 17.0L26.2 18.3L28.7 12.1L23.2 15.9L24.6 16.2L24.2 16.7ZM40.1 17.7L40.2 17.1L41.3 17.9L40.5 11.6L37.7 17.3L39.0 16.9L38.9 17.5ZM53.3 17.2L53.4 16.7L54.3 17.4L53.8 12.1L51.3 16.8L52.4 16.5L52.3 17.0ZM65.1 14.4L65.4 14.5L64.9 15.0L68.2 15.1L65.5 13.2L65.5 13.9L65.2 13.8ZM78.9 14.3L79.1 14.4L78.7 14.7L81.0 15.1L79.3 13.5L79.3 14.0L79.1 13.9ZM92.2 14.3L92.4 14.4L92.0 14.7L94.3 15.1L92.6 13.5L92.6 14.0L92.4 13.9ZM105.99 14.60a0.65 0.65 0 1 0 1.30 0a0.65 0.65 0 1 0 -1.30 0ZM121.0 14.4L120.8 14.4L121.0 14.0L119.0 14.6L121.0 15.2L120.8 14.8L121.0 14.8ZM132.65 14.60a0.65 0.65 0 1 0 1.30 0a0.65 0.65 0 1 0 -1.30 0ZM145.98 14.60a0.65 0.65 0 1 0 1.30 0a0.65 0.65 0 1 0 -1.30 0ZM159.31 14.60a0.65 0.65 0 1 0 1.30 0a0.65 0.65 0 1 0 -1.30 0ZM172.64 14.60a0.65 0.65 0 1 0 1.30 0a0.65 0.65 0 1 0 -1.30 0ZM185.97 14.60a0.65 0.65 0 1 0 1.30 0a0.65 0.65 0 1 0 -1.30 0ZM200.2 16.1L200.2 15.8L200.8 16.1L199.9 13.1L199.0 16.1L199.6 15.8L199.6 16.1ZM213.6 16.1L213.6 15.8L214.2 16.1L213.3 13.1L212.4 16.1L213.0 15.8L213.0 16.1ZM225.96 14.60a0.65 0.65 0 1 0 1.30 0a0.65 0.65 0 1 0 -1.30 0ZM253.0 13.1L253.0 13.4L252.4 13.1L253.3 16.1L254.2 13.1L253.6 13.4L253.6 13.1ZM265.95 14.60a0.65 0.65 0 1 0 1.30 0a0.65 0.65 0 1 0 -1.30 0ZM279.28 14.60a0.65 0.65 0 1 0 1.30 0a0.65 0.65 0 1 0 -1.30 0ZM292.61 14.60a0.65 0.65 0 1 0 1.30 0a0.65 0.65 0 1 0 -1.30 0ZM11.2 31.7L11.7 31.3L12.0 32.7L15.8 27.2L9.6 29.7L10.9 30.3L10.4 30.7ZM23.9 30.8L24.5 30.6L24.3 32.0L29.7 28.2L23.1 28.4L24.1 29.4L23.5 29.6ZM38.0 29.6L38.4 29.6L38.0 30.4L42.0 29.2L38.0 28.0L38.4 28.8L38.0 28.8ZM51.2 29.1L51.6 29.2L51.0 29.9L55.3 29.7L51.6 27.5L51.8 28.4L51.4 28.3ZM64.6 29.1L65.0 29.2L64.4 29.9L68.7 29.7L65.0 27.5L65.2 28.4L64.8 28.3ZM78.5 29.5L78.8 29.5L78.5 30.1L81.5 29.2L78.5 28.3L78.8 28.9L78.5 28.9ZM91.1 31.2L91.6 30.9L91.7 32.2L95.8 27.7L89.9 29.2L91.0 29.9L90.5 30.2ZM103.9 31.3L104.7 30.9L104.7 32.4L109.6 27.7L103.0 28.9L104.1 29.7L103.3 30.1ZM116.8 31.8L118.7 30.7L118.8 32.1L123.5 27.2L116.9 28.7L118.1 29.5L116.1 30.6ZM129.6 32.3L132.7 30.4L132.8 31.8L137.3 26.7L130.8 28.5L132.0 29.2L129.0 31.1ZM143.0 32.3L146.0 30.4L146.2 31.8L150.6 26.7L144.1 28.5L145.3 29.2L142.3 31.1ZM155.8 32.3L159.7 30.1L159.7 31.6L164.5 26.7L157.8 28.2L159.0 29.0L155.1 31.1ZM168.6 32.8L173.6 29.8L173.7 31.2L178.3 26.2L171.7 27.9L172.9 28.7L168.0 31.6ZM183.5 32.7L186.1 30.5L186.5 31.9L190.1 26.2L183.9 28.9L185.3 29.5L182.7 31.7ZM199.8 31.3L199.9 30.9L200.6 31.5L200.4 27.2L198.2 30.9L199.1 30.7L199.0 31.1ZM212.63 29.20a0.65 0.65 0 1 0 1.30 0a0.65 0.65 0 1 0 -1.30 0ZM226.3 30.3L226.4 30.1L226.7 30.5L227.1 28.2L225.5 29.9L226.0 29.9L225.9 30.1ZM239.7 30.8L239.8 30.5L240.3 31.0L240.4 27.7L238.5 30.4L239.2 30.3L239.1 30.6ZM252.62 29.20a0.65 0.65 0 1 0 1.30 0a0.65 0.65 0 1 0 -1.30 0ZM265.95 29.20a0.65 0.65 0 1 0 1.30 0a0.65 0.65 0 1 0 -1.30 0ZM279.28 29.20a0.65 0.65 0 1 0 1.30 0a0.65 0.65 0 1 0 -1.30 0ZM292.61 29.20a0.65 0.65 0 1 0 1.30 0a0.65 0.65 0 1 0 -1.30 0ZM12.1 43.0L12.3 43.2L11.7 43.4L14.3 44.8L12.9 42.2L12.7 42.8L12.5 42.6ZM26.5 45.4L26.6 45.1L27.1 45.6L27.2 42.3L25.3 45.0L26.0 44.9L25.9 45.2ZM40.1 47.9L40.4 45.7L41.6 46.5L40.5 39.8L37.7 46.0L39.1 45.5L38.8 47.7ZM54.0 48.8L54.0 44.6L55.3 45.3L53.3 38.8L51.4 45.3L52.7 44.6L52.7 48.8ZM67.3 49.3L67.3 44.1L68.6 44.8L66.7 38.3L64.7 44.8L66.0 44.1L66.0 49.3ZM80.6 49.8L80.6 43.6L81.9 44.3L80.0 37.8L78.0 44.3L79.3 43.6L79.3 49.8ZM93.5 49.9L94.0 43.7L95.2 44.4L93.8 37.8L91.3 44.1L92.7 43.6L92.2 49.7ZM108.3 49.2L107.3 43.9L108.7 44.3L105.6 38.3L104.9 45.0L106.0 44.2L107.0 49.4ZM121.6 49.2L120.7 43.9L122.1 44.3L119.0 38.3L118.2 45.0L119.4 44.2L120.3 49.4ZM135.4 48.6L134.1 44.2L135.5 44.5L131.8 38.8L131.8 45.6L132.9 44.6L134.2 49.0ZM148.7 48.1L147.6 44.6L149.0 44.8L145.1 39.3L145.3 46.1L146.4 45.1L147.5 48.5ZM161.6 48.7L160.7 44.4L162.1 44.8L159.0 38.8L158.3 45.6L159.5 44.7L160.3 48.9ZM173.9 48.8L173.9 44.6L175.2 45.3L173.3 38.8L171.3 45.3L172.6 44.6L172.6 48.8ZM187.3 48.8L187.3 44.6L188.6 45.3L186.6 38.8L184.7 45.3L186.0 44.6L186.0 48.8ZM199.6 48.9L200.4 44.7L201.6 45.6L200.9 38.8L197.8 44.8L199.2 44.4L198.3 48.7ZM211.9 48.6L213.5 44.9L214.4 46.0L215.3 39.3L210.9 44.4L212.3 44.4L210.7 48.0ZM223.6 48.2L226.7 44.6L227.3 46.0L230.1 39.8L224.4 43.4L225.8 43.8L222.6 47.4ZM235.8 47.6L240.1 44.5L240.3 45.9L244.4 40.5L238.0 42.8L239.3 43.4L235.1 46.5ZM248.4 47.6L253.9 44.2L254.0 45.6L258.5 40.5L252.0 42.3L253.2 43.1L247.7 46.5ZM260.9 47.9L267.9 43.8L268.0 45.3L272.6 40.3L266.0 41.9L267.2 42.7L260.3 46.7ZM39.34 58.40a0.65 0.65 0 1 0 1.30 0a0.65 0.65 0 1 0 -1.30 0ZM52.67 58.40a0.65 0.65 0 1 0 1.30 0a0.65 0.65 0 1 0 -1.30 0ZM70.5 56.8L68.2 57.4L68.5 55.9L62.7 59.4L69.4 59.7L68.5 58.6L70.8 58.0ZM84.4 57.3L81.2 57.6L81.7 56.2L75.5 58.9L82.2 60.1L81.4 58.9L84.6 58.5ZM97.8 57.8L94.7 57.8L95.3 56.4L88.8 58.4L95.3 60.4L94.7 59.0L97.8 59.0ZM111.2 58.3L108.0 57.9L108.8 56.7L102.1 57.9L108.4 60.6L107.9 59.2L111.1 59.5ZM124.6 58.8L121.3 58.0L122.2 56.9L115.5 57.4L121.4 60.7L121.0 59.3L124.3 60.0ZM138.0 59.3L134.6 58.1L135.6 57.1L128.8 56.9L134.3 60.8L134.1 59.4L137.6 60.5ZM150.9 59.8L148.2 58.4L149.3 57.6L142.6 56.4L147.6 61.1L147.6 59.6L150.3 61.0ZM164.4 61.4L160.8 58.3L162.1 57.7L156.0 54.9L159.6 60.6L159.9 59.2L163.5 62.4ZM177.0 61.5L174.5 58.7L175.9 58.3L170.0 54.9L173.0 61.0L173.5 59.6L176.1 62.3ZM189.2 61.3L188.2 59.8L189.7 59.7L184.6 55.1L186.4 61.7L187.1 60.5L188.1 62.0ZM201.4 61.8L201.1 60.5L202.5 60.8L199.1 54.9L198.7 61.7L199.8 60.7L200.1 62.0ZM213.9 61.9L213.9 60.8L215.2 61.4L213.3 54.9L211.3 61.4L212.6 60.8L212.6 61.9ZM227.3 61.9L227.3 60.8L228.6 61.4L226.6 54.9L224.7 61.4L226.0 60.8L226.0 61.9ZM240.6 61.9L240.6 60.8L241.9 61.4L239.9 54.9L238.0 61.4L239.3 60.8L239.3 61.9ZM254.2 60.3L254.1 59.9L255.0 60.1L252.8 56.4L252.6 60.7L253.3 60.1L253.4 60.5ZM267.2 61.1L267.2 60.6L268.2 61.1L266.6 55.6L265.0 61.1L266.1 60.6L266.1 61.1ZM39.34 73.00a0.65 0.65 0 1 0 1.30 0a0.65 0.65 0 1 0 -1.30 0ZM52.3 70.6L52.4 71.1L51.3 70.8L53.8 75.5L54.3 70.2L53.4 70.9L53.3 70.4ZM66.00 73.00a0.65 0.65 0 1 0 1.30 0a0.65 0.65 0 1 0 -1.30 0ZM79.33 73.00a0.65 0.65 0 1 0 1.30 0a0.65 0.65 0 1 0 -1.30 0ZM91.4 71.3L91.7 71.7L90.6 71.9L94.8 75.0L93.0 70.1L92.5 71.1L92.2 70.7ZM106.0 70.0L106.0 70.6L104.8 70.0L106.6 76.0L108.4 70.0L107.2 70.6L107.2 70.0ZM119.5 70.5L119.5 71.0L118.5 70.5L120.0 75.5L121.5 70.5L120.5 71.0L120.5 70.5ZM133.3 70.4L133.2 70.9L132.3 70.2L132.8 75.5L135.3 70.8L134.2 71.1L134.3 70.6ZM148.3 71.1L147.9 71.4L147.7 70.3L144.6 74.5L149.5 72.7L148.5 72.2L148.9 71.9ZM163.9 71.9L161.7 72.1L162.2 70.8L156.0 73.5L162.7 74.6L161.8 73.4L164.0 73.1ZM177.4 72.9L175.2 72.6L176.0 71.4L169.3 72.5L175.5 75.2L175.0 73.9L177.2 74.1ZM189.9 73.9L189.1 73.5L190.3 72.7L183.6 71.5L188.6 76.2L188.6 74.7L189.3 75.1ZM201.8 74.7L201.5 74.3L202.6 74.1L198.4 71.0L200.2 75.9L200.7 74.9L201.0 75.3ZM214.3 75.4L214.2 74.9L215.3 75.2L212.8 70.5L212.3 75.8L213.2 75.1L213.3 75.6ZM227.0 75.0L227.0 74.6L227.8 75.0L226.6 71.0L225.4 75.0L226.2 74.6L226.2 75.0ZM240.3 74.8L240.3 74.4L241.0 74.8L239.9 71.2L238.9 74.8L239.6 74.4L239.6 74.8ZM253.5 74.0L253.5 73.8L253.9 74.0L253.3 72.0L252.7 74.0L253.1 73.8L253.1 74.0ZM265.95 73.00a0.65 0.65 0 1 0 1.30 0a0.65 0.65 0 1 0 -1.30 0ZM52.67 87.60a0.65 0.65 0 1 0 1.30 0a0.65 0.65 0 1 0 -1.30 0ZM66.00 87.60a0.65 0.65 0 1 0 1.30 0a0.65 0.65 0 1 0 -1.30 0ZM79.33 87.60a0.65 0.65 0 1 0 1.30 0a0.65 0.65 0 1 0 -1.30 0ZM91.3 88.0L91.7 88.0L91.3 88.8L95.3 87.6L91.3 86.4L91.7 87.2L91.3 87.2ZM103.3 86.1L104.4 86.9L103.2 87.6L109.6 89.6L105.3 84.4L105.1 85.8L104.0 85.1ZM116.1 86.2L118.1 87.3L116.9 88.1L123.5 89.6L118.8 84.7L118.7 86.1L116.8 85.0ZM129.5 86.2L131.4 87.3L130.2 88.1L136.8 89.6L132.1 84.7L132.0 86.1L130.1 85.0ZM143.3 86.1L144.4 86.9L143.1 87.6L149.6 89.6L145.3 84.4L145.1 85.8L144.0 85.1ZM155.9 83.5L159.4 87.9L157.9 88.2L163.5 92.1L161.0 85.8L160.4 87.1L157.0 82.7ZM172.1 82.7L172.6 86.8L171.2 86.3L173.8 92.6L175.1 85.9L173.9 86.7L173.4 82.5ZM187.8 85.8L187.5 86.1L187.2 85.2L185.1 89.1L189.0 87.0L188.1 86.7L188.4 86.4ZM197.0 86.1L197.5 86.5L196.2 87.1L202.4 89.6L198.6 84.1L198.3 85.5L197.8 85.1ZM211.0 86.5L211.4 86.8L210.4 87.3L215.3 89.1L212.2 84.9L212.0 86.0L211.6 85.7ZM225.0 87.4L225.3 87.5L224.8 88.0L228.1 88.1L225.4 86.2L225.5 86.9L225.2 86.8ZM238.8 87.3L239.0 87.4L238.6 87.7L240.9 88.1L239.2 86.5L239.2 87.0L239.0 86.9ZM252.62 87.60a0.65 0.65 0 1 0 1.30 0a0.65 0.65 0 1 0 -1.30 0ZM265.95 87.60a0.65 0.65 0 1 0 1.30 0a0.65 0.65 0 1 0 -1.30 0ZM279.28 87.60a0.65 0.65 0 1 0 1.30 0a0.65 0.65 0 1 0 -1.30 0ZM66.00 102.20a0.65 0.65 0 1 0 1.30 0a0.65 0.65 0 1 0 -1.30 0ZM79.33 102.20a0.65 0.65 0 1 0 1.30 0a0.65 0.65 0 1 0 -1.30 0ZM92.66 102.20a0.65 0.65 0 1 0 1.30 0a0.65 0.65 0 1 0 -1.30 0ZM105.99 102.20a0.65 0.65 0 1 0 1.30 0a0.65 0.65 0 1 0 -1.30 0ZM119.32 102.20a0.65 0.65 0 1 0 1.30 0a0.65 0.65 0 1 0 -1.30 0ZM132.65 102.20a0.65 0.65 0 1 0 1.30 0a0.65 0.65 0 1 0 -1.30 0ZM145.98 102.20a0.65 0.65 0 1 0 1.30 0a0.65 0.65 0 1 0 -1.30 0ZM159.31 102.20a0.65 0.65 0 1 0 1.30 0a0.65 0.65 0 1 0 -1.30 0ZM172.64 102.20a0.65 0.65 0 1 0 1.30 0a0.65 0.65 0 1 0 -1.30 0ZM185.97 102.20a0.65 0.65 0 1 0 1.30 0a0.65 0.65 0 1 0 -1.30 0ZM199.30 102.20a0.65 0.65 0 1 0 1.30 0a0.65 0.65 0 1 0 -1.30 0ZM212.63 102.20a0.65 0.65 0 1 0 1.30 0a0.65 0.65 0 1 0 -1.30 0ZM225.96 102.20a0.65 0.65 0 1 0 1.30 0a0.65 0.65 0 1 0 -1.30 0ZM239.29 102.20a0.65 0.65 0 1 0 1.30 0a0.65 0.65 0 1 0 -1.30 0ZM252.62 102.20a0.65 0.65 0 1 0 1.30 0a0.65 0.65 0 1 0 -1.30 0ZM265.95 102.20a0.65 0.65 0 1 0 1.30 0a0.65 0.65 0 1 0 -1.30 0Z" fill="#000"/>
<use href="#land"/>
</g>
<use href="#ticks"/>
<rect x="0" y="0" width="307.1" height="102.4" fill="none" stroke="#000" stroke-width="1.2"/>
</g>
<path d="M640 153.4H656" stroke="#000" stroke-width="1.5"/><path d="M655 151.5L662 153.4L655 155.3Z" fill="#000"/>
<g transform="translate(35.4 300.0)">
<g clip-path="url(#pc)">
<path d="M97.4 9.0 L104.4 3.2 L118.4 0.8 L139.4 0.8 L144.1 4.3 L134.7 11.4 L120.7 14.9 L106.7 14.9 L99.7 12.5Z" fill="#e2edf3"/>
<path d="M102.0 7.8 L111.4 3.2 L125.4 0.8 L139.4 1.5 L137.1 6.7 L125.4 10.2 L111.4 11.4Z" fill="#acd4e5"/>
<path d="M114.9 3.2 L121.9 0.8 L134.7 0.8 L134.7 4.3 L125.4 6.7 L116.1 6.2Z" fill="#62a7cb"/>
<path d="M1.6 41.7 L18.0 40.5 L41.3 40.5 L64.7 39.4 L88.0 40.5 L116.1 38.2 L134.7 36.6 L154.6 35.9 L154.6 72.1 L134.7 69.7 L116.1 65.1 L102.0 62.7 L88.0 65.1 L76.4 69.7 L64.7 74.4 L50.7 74.4 L36.6 73.2 L22.6 72.1 L8.6 67.4 L1.6 65.1Z" fill="#e2edf3"/>
<path d="M57.7 52.2 L64.7 51.1 L83.4 50.4 L104.4 48.7 L118.4 47.6 L134.7 47.6 L154.6 48.3 L154.6 56.2 L134.7 56.2 L118.4 55.3 L104.4 55.3 L88.0 56.2 L69.3 56.2 L60.0 54.6Z" fill="#acd4e5"/>
<path d="M99.7 81.4 L111.4 79.1 L134.7 77.9 L154.6 76.8 L154.6 93.1 L139.4 90.8 L123.1 88.4 L106.7 87.3 L99.7 84.9Z" fill="#e2edf3"/>
<path d="M144.1 89.6 L154.6 87.3 L154.6 95.4 L146.4 94.3Z" fill="#acd4e5"/>
<path d="M149.6 38.2 L158.9 35.9 L184.6 38.2 L210.3 40.5 L231.4 44.1 L247.7 46.4 L252.4 52.2 L243.0 58.1 L224.3 60.4 L208.0 61.6 L187.0 67.4 L187.0 75.6 L173.0 72.1 L161.3 69.7 L149.6 70.9Z" fill="#e2edf3"/>
<path d="M149.6 45.2 L163.6 44.1 L184.6 42.9 L208.0 41.7 L226.7 44.1 L243.0 47.6 L246.5 52.2 L238.4 55.3 L219.7 56.9 L196.3 57.6 L177.6 57.6 L163.6 57.6 L149.6 56.9Z" fill="#acd4e5"/>
<path d="M181.1 52.2 L189.3 49.9 L198.7 49.4 L205.7 49.2 L215.0 47.6 L224.3 48.0 L231.4 50.6 L226.7 53.4 L217.3 55.3 L205.7 55.3 L196.3 55.7 L184.6 55.3Z" fill="#62a7cb"/>
<path d="M238.4 37.0 L247.7 32.4 L257.0 30.0 L264.1 31.2 L266.4 35.9 L259.4 40.5 L247.7 40.5 L239.5 39.4Z" fill="#f3e6dc"/>
<path d="M149.6 81.4 L163.6 84.9 L180.0 90.8 L187.0 95.4 L188.1 98.9 L173.0 100.1 L158.9 98.9 L149.6 97.8Z" fill="#e2edf3"/>
<path d="M149.6 87.3 L158.9 88.4 L168.3 91.9 L170.6 97.8 L161.3 98.9 L149.6 97.8Z" fill="#acd4e5"/>
<use href="#land"/>
<use href="#boxes"/>
</g>
<use href="#ticks"/>
<rect x="0" y="0" width="307.1" height="102.4" fill="none" stroke="#000" stroke-width="1.2"/>
</g>
<g transform="translate(374.7 300.0)">
<g clip-path="url(#pc)">
<path d="M-0.7 5.8 L12.9 3.5 L28.7 3.5 L24.2 12.6 L12.9 19.4 L3.8 23.9 L-0.7 23.9Z" fill="#d7f0ea"/>
<path d="M64.9 19.4 L76.2 5.8 L94.3 3.5 L119.2 5.8 L119.2 28.4 L101.1 28.4 L78.5 28.4 L67.2 26.2Z" fill="#d7f0ea"/>
<path d="M137.3 5.8 L144.1 1.3 L154.3 1.3 L154.3 12.6 L144.1 11.4 L138.5 9.2Z" fill="#f3eac9"/>
<path d="M139.6 3.5 L146.4 1.3 L154.3 1.3 L154.3 8.1 L146.4 8.1Z" fill="#d2b772"/>
<path d="M-0.7 38.6 L33.2 38.6 L67.2 39.3 L101.1 39.7 L135.1 39.3 L154.3 39.7 L154.3 51.0 L135.1 49.9 L112.4 49.9 L89.8 49.9 L67.2 53.3 L44.6 53.3 L21.9 51.0 L10.6 47.6 L-0.7 46.5Z" fill="#d2b772"/>
<path d="M40.0 43.1 L53.6 40.9 L74.0 40.9 L96.6 40.9 L119.2 40.9 L135.1 42.0 L144.1 43.1 L135.1 45.4 L112.4 46.5 L89.8 46.5 L67.2 47.6 L51.3 48.3 L42.3 46.5Z" fill="#a06a2b"/>
<path d="M51.3 43.1 L62.7 41.5 L78.5 41.5 L94.3 42.4 L89.8 45.4 L74.0 46.5 L58.1 47.6Z" fill="#553210"/>
<path d="M67.2 49.9 L89.8 47.6 L112.4 47.6 L135.1 47.6 L154.3 48.8 L154.3 56.7 L135.1 56.7 L112.4 55.6 L89.8 54.4 L71.7 53.3Z" fill="#f3eac9"/>
<path d="M44.6 55.6 L67.2 56.7 L89.8 56.7 L98.9 60.1 L105.7 66.9 L117.0 69.1 L135.1 70.3 L154.3 69.1 L154.3 75.9 L135.1 75.9 L112.4 75.9 L94.3 73.7 L78.5 71.4 L62.7 66.9 L49.1 63.5 L44.6 60.1Z" fill="#d2b772"/>
<path d="M96.6 63.5 L107.9 61.2 L123.8 62.4 L139.6 64.6 L146.4 66.9 L139.6 69.1 L123.8 69.1 L107.9 68.0 L98.9 66.9Z" fill="#a06a2b"/>
<path d="M105.7 64.6 L117.0 62.8 L130.5 64.2 L137.3 66.9 L126.0 68.0 L112.4 67.3Z" fill="#553210"/>
<path d="M-0.7 44.3 L8.4 43.1 L12.9 47.6 L8.4 52.2 L-0.7 52.2Z" fill="#d2b772"/>
<path d="M92.1 85.0 L101.1 82.7 L112.4 85.0 L117.0 89.5 L114.7 96.3 L103.4 98.6 L94.3 94.0Z" fill="#d7f0ea"/>
<path d="M94.3 86.1 L103.4 83.9 L112.4 87.2 L110.2 94.0 L101.1 95.2 L95.5 91.8Z" fill="#86cfbb"/>
<path d="M53.6 64.6 L62.7 63.5 L74.0 65.8 L71.7 69.1 L60.4 69.1 L54.7 66.9Z" fill="#d7f0ea"/>
<path d="M21.9 59.0 L28.7 59.0 L29.8 63.5 L23.1 63.5Z" fill="#86cfbb"/>
<path d="M139.6 89.5 L148.6 88.4 L150.9 94.0 L141.9 95.2Z" fill="#d7f0ea"/>
<path d="M20.3 36.0 L35.3 30.0 L65.3 26.0 L105.3 12.0 L119.3 3.0 L119.3 20.0 L105.3 26.0 L95.3 34.0 L65.3 39.0 L25.3 39.0Z" fill="#d7f0ea"/>
<path d="M165.3 12.0 L183.3 6.0 L200.3 4.0 L202.3 14.0 L185.3 20.0Z" fill="#d7f0ea"/>
<path d="M33.3 33.0 L55.3 31.0 L85.3 29.0 L105.3 25.5 L127.2 24.8 L141.8 21.9 L163.7 16.8 L185.6 11.7 L198.7 8.8 L198.7 16.1 L185.6 23.4 L178.3 29.2 L171.0 35.0 L149.1 36.5 L127.2 37.0 L105.3 37.0 L75.3 38.0 L45.3 38.0 L35.3 37.0Z" fill="#86cfbb"/>
<path d="M43.3 35.5 L75.3 34.0 L105.3 30.0 L127.2 28.5 L149.1 27.7 L171.0 28.5 L178.3 31.4 L178.3 34.3 L163.7 35.8 L134.5 37.0 L105.3 37.5 L75.3 38.0 L45.3 38.0Z" fill="#3c8b7a"/>
<path d="M131.6 31.4 L165.3 31.0 L172.5 33.0 L165.3 35.0 L131.6 35.0Z" fill="#1d4634"/>
<path d="M154.3 1.3 L163.4 1.3 L167.9 5.8 L154.3 8.1Z" fill="#f3eac9"/>
<path d="M290.1 3.5 L304.8 3.5 L304.8 19.4 L294.6 17.1Z" fill="#f3eac9"/>
<path d="M210.9 34.1 L222.2 31.8 L244.8 32.9 L267.4 35.2 L274.2 39.7 L267.4 43.1 L251.6 42.0 L233.5 39.7 L215.4 38.6Z" fill="#d7f0ea"/>
<path d="M213.1 35.2 L222.2 34.8 L226.7 37.5 L217.7 38.6Z" fill="#86cfbb"/>
<path d="M154.3 39.7 L176.9 39.3 L199.6 40.2 L222.2 41.5 L226.7 45.4 L210.9 47.0 L188.2 46.5 L165.6 47.0 L154.3 46.5Z" fill="#d2b772"/>
<path d="M154.3 40.9 L161.1 40.4 L163.4 43.1 L154.3 44.3Z" fill="#a06a2b"/>
<path d="M154.3 69.1 L188.2 70.3 L222.2 71.4 L244.8 73.7 L244.8 85.0 L233.5 94.0 L210.9 98.6 L188.2 98.6 L165.6 96.3 L154.3 94.0Z" fill="#f3eac9"/>
<path d="M154.3 63.5 L176.9 62.4 L199.6 62.4 L222.2 63.5 L226.7 66.9 L210.9 68.0 L188.2 69.1 L165.6 69.1 L154.3 69.1Z" fill="#d2b772"/>
<path d="M181.5 63.5 L195.0 63.0 L206.3 64.6 L199.6 66.9 L186.0 66.9Z" fill="#a06a2b"/>
<path d="M161.1 75.9 L172.4 74.8 L183.7 77.1 L188.2 83.9 L183.7 87.2 L172.4 87.2 L163.4 82.7Z" fill="#d2b772"/>
<path d="M266.3 49.9 L272.0 49.9 L272.0 60.1 L267.4 62.4 L265.2 56.7Z" fill="#d2b772"/>
<path d="M249.3 80.5 L260.7 75.9 L272.0 78.2 L281.0 85.0 L283.3 96.3 L272.0 100.8 L260.7 98.6 L251.6 89.5Z" fill="#d7f0ea"/>
<path d="M154.3 94.0 L167.9 95.2 L172.4 100.8 L163.4 102.0 L154.3 102.0Z" fill="#d7f0ea"/>
<path d="M11.7 17.0L12.1 16.6L12.5 17.8L15.3 12.6L10.1 15.4L11.3 15.8L10.9 16.2ZM26.8 19.2L27.2 16.0L28.4 16.8L27.2 10.1L24.5 16.3L25.9 15.8L25.5 19.0ZM40.6 18.6L40.6 16.4L41.9 17.1L40.0 10.6L38.0 17.1L39.3 16.4L39.3 18.6ZM51.6 13.9L51.9 14.1L51.2 14.5L54.8 15.6L52.4 12.7L52.3 13.5L52.0 13.3ZM68.7 14.2L68.2 14.2L68.7 13.4L64.7 14.6L68.7 15.8L68.2 15.0L68.7 15.0ZM83.0 14.0L82.4 14.0L83.0 12.8L77.0 14.6L83.0 16.4L82.4 15.2L83.0 15.2ZM97.5 15.0L95.1 14.4L96.1 13.3L89.3 13.6L95.1 17.1L94.8 15.6L97.2 16.2ZM112.4 16.0L106.9 14.0L107.9 13.0L101.1 12.6L106.6 16.7L106.4 15.2L111.9 17.2ZM126.6 15.0L119.4 13.8L120.2 12.7L113.5 13.6L119.6 16.5L119.2 15.1L126.4 16.2ZM140.3 13.9L132.2 13.9L132.8 12.6L126.3 14.6L132.8 16.6L132.2 15.2L140.3 15.2ZM152.5 12.5L146.1 14.1L146.5 12.6L140.6 16.1L147.4 16.4L146.5 15.3L152.8 13.7ZM165.7 11.5L159.1 14.2L159.2 12.8L154.0 17.1L160.7 16.4L159.6 15.4L166.2 12.7ZM178.0 11.5L173.2 13.9L173.2 12.4L168.3 17.1L175.0 15.9L173.8 15.1L178.6 12.7ZM188.8 12.6L188.3 12.9L188.2 11.6L184.1 16.1L190.0 14.6L188.9 13.9L189.4 13.6ZM199.30 14.60a0.65 0.65 0 1 0 1.30 0a0.65 0.65 0 1 0 -1.30 0ZM213.0 13.1L213.0 13.4L212.4 13.1L213.3 16.1L214.2 13.1L213.6 13.4L213.6 13.1ZM253.0 13.1L253.0 13.4L252.4 13.1L253.3 16.1L254.2 13.1L253.6 13.4L253.6 13.1ZM265.8 13.2L265.9 13.5L265.2 13.4L267.1 16.1L267.0 12.8L266.5 13.3L266.4 13.0ZM281.4 14.3L281.1 14.3L281.4 13.7L278.4 14.6L281.4 15.5L281.1 14.9L281.4 14.9ZM293.5 15.6L293.5 15.4L293.9 15.6L293.3 13.6L292.7 15.6L293.1 15.4L293.1 15.6ZM15.1 27.8L14.7 28.0L14.7 27.0L11.3 30.2L15.9 29.4L15.1 28.8L15.5 28.6ZM27.6 28.5L27.4 28.6L27.4 28.1L25.7 29.7L28.0 29.3L27.6 29.0L27.8 28.9ZM40.3 30.7L40.3 30.4L40.9 30.7L40.0 27.7L39.1 30.7L39.7 30.4L39.7 30.7ZM53.7 31.2L53.7 30.8L54.5 31.2L53.3 27.2L52.1 31.2L52.9 30.8L52.9 31.2ZM67.2 31.7L67.2 31.2L68.2 31.7L66.7 26.7L65.2 31.7L66.2 31.2L66.2 31.7ZM80.5 31.7L80.5 31.2L81.5 31.7L80.0 26.7L78.5 31.7L79.5 31.2L79.5 31.7ZM93.8 31.7L93.8 31.2L94.8 31.7L93.3 26.7L91.8 31.7L92.8 31.2L92.8 31.7ZM107.9 28.9L107.6 28.9L107.9 28.4L105.4 29.2L107.9 29.9L107.6 29.4L107.9 29.4ZM121.4 28.4L121.1 28.5L121.2 27.8L118.5 29.7L121.8 29.6L121.3 29.1L121.6 29.0ZM135.2 28.3L134.8 28.4L135.0 27.5L131.3 29.7L135.6 29.9L135.0 29.2L135.4 29.1ZM148.5 28.3L148.1 28.4L148.3 27.5L144.6 29.7L148.9 29.9L148.3 29.2L148.7 29.1ZM162.4 28.2L161.9 28.3L162.2 27.2L157.5 29.7L162.8 30.2L162.1 29.3L162.6 29.2ZM176.1 27.6L175.5 27.8L175.7 26.4L170.3 30.2L176.9 30.0L175.9 29.0L176.5 28.8ZM189.3 27.1L188.6 27.5L188.6 26.0L183.6 30.7L190.3 29.5L189.1 28.7L189.9 28.3ZM202.7 27.1L201.9 27.5L201.9 26.0L196.9 30.7L203.6 29.5L202.5 28.7L203.2 28.3ZM213.3 26.6L213.2 27.1L212.3 26.4L212.8 31.7L215.3 27.0L214.2 27.3L214.3 26.8ZM225.2 27.4L225.4 27.8L224.4 27.8L227.6 31.2L226.8 26.6L226.2 27.4L226.0 27.0ZM238.2 31.1L238.6 30.8L238.8 31.9L241.9 27.7L237.0 29.5L238.0 30.0L237.6 30.3ZM254.0 27.5L253.8 27.8L253.4 27.1L252.3 30.7L255.2 28.3L254.4 28.2L254.6 27.9ZM281.4 28.9L281.1 28.9L281.4 28.3L278.4 29.2L281.4 30.1L281.1 29.5L281.4 29.5ZM292.9 27.2L292.9 27.6L292.1 27.2L293.3 31.2L294.5 27.2L293.7 27.6L293.7 27.2ZM15.8 43.3L15.3 43.3L15.8 42.3L10.8 43.8L15.8 45.3L15.3 44.3L15.8 44.3ZM24.2 41.7L24.6 42.2L23.2 42.5L28.7 46.3L26.2 40.1L25.6 41.4L25.2 40.9ZM41.1 48.5L40.7 44.8L42.1 45.3L39.5 39.0L38.2 45.7L39.5 44.9L39.8 48.6ZM56.1 48.3L54.1 44.0L55.6 44.1L51.1 39.0L52.1 45.7L53.0 44.6L54.9 48.9ZM70.5 48.2L67.2 43.5L68.6 43.3L63.4 39.0L65.4 45.5L66.1 44.2L69.4 49.0ZM84.0 48.4L80.4 43.2L81.8 43.0L76.5 38.8L78.6 45.2L79.3 44.0L82.9 49.2ZM98.0 48.2L93.5 43.0L94.9 42.6L89.2 39.0L91.9 45.2L92.5 43.9L97.0 49.0ZM111.5 47.5L106.9 43.2L108.3 42.7L102.2 39.6L105.6 45.5L106.0 44.1L110.6 48.5ZM124.4 46.2L121.1 43.8L122.4 43.1L116.0 40.9L120.1 46.3L120.3 44.9L123.6 47.2ZM137.1 45.5L135.1 44.2L136.4 43.5L129.9 41.6L134.3 46.7L134.4 45.3L136.4 46.5ZM149.2 45.4L148.8 45.0L150.0 44.5L144.4 41.8L147.6 47.1L148.0 45.8L148.4 46.2ZM159.31 43.80a0.65 0.65 0 1 0 1.30 0a0.65 0.65 0 1 0 -1.30 0ZM172.64 43.80a0.65 0.65 0 1 0 1.30 0a0.65 0.65 0 1 0 -1.30 0ZM185.1 44.1L185.4 44.1L185.1 44.7L188.1 43.8L185.1 42.9L185.4 43.5L185.1 43.5ZM197.5 44.8L198.0 44.7L197.8 45.8L202.4 43.3L197.1 42.8L197.8 43.7L197.3 43.8ZM210.5 45.4L211.1 45.2L210.9 46.6L216.3 42.8L209.7 43.0L210.7 44.0L210.1 44.2ZM223.4 46.4L225.4 45.3L225.4 46.7L230.1 41.8L223.5 43.3L224.7 44.1L222.8 45.2ZM236.3 47.3L239.6 44.8L239.9 46.3L243.9 40.8L237.6 43.1L238.9 43.8L235.6 46.3ZM251.8 47.6L252.9 45.7L253.7 46.9L255.3 40.3L250.4 45.0L251.8 45.1L250.7 47.0ZM20.3 57.8L12.2 57.8L12.8 56.4L6.3 58.4L12.8 60.4L12.2 59.0L20.3 59.0ZM30.7 57.8L28.5 57.8L29.2 56.4L22.7 58.4L29.2 60.4L28.5 59.0L30.7 59.0ZM39.34 58.40a0.65 0.65 0 1 0 1.30 0a0.65 0.65 0 1 0 -1.30 0ZM59.8 57.3L52.6 57.8L53.2 56.5L46.8 58.9L53.5 60.3L52.7 59.1L59.9 58.5ZM74.1 57.3L64.9 57.9L65.5 56.5L59.2 58.9L65.8 60.4L65.0 59.2L74.2 58.5ZM87.5 57.8L78.3 57.8L79.0 56.4L72.5 58.4L79.0 60.4L78.3 59.0L87.5 59.0ZM100.3 57.8L92.2 57.8L92.8 56.4L86.3 58.4L92.8 60.4L92.2 59.0L100.3 59.0ZM113.9 60.8L105.3 57.1L106.4 56.2L99.6 55.4L104.8 59.8L104.8 58.3L113.4 62.0ZM125.4 62.4L119.8 57.3L121.1 56.8L115.0 53.9L118.5 59.7L118.9 58.3L124.5 63.4ZM137.8 61.9L133.9 58.1L135.3 57.6L129.3 54.4L132.5 60.4L133.0 59.0L136.8 62.9ZM150.2 62.0L147.7 58.7L149.1 58.4L143.6 54.4L146.0 60.8L146.6 59.5L149.1 62.8ZM162.5 61.0L161.7 59.9L163.2 59.7L158.0 55.4L159.9 61.9L160.7 60.6L161.4 61.8ZM174.4 61.8L174.3 60.6L175.6 61.1L172.8 54.9L171.8 61.6L173.0 60.8L173.1 62.0ZM187.3 61.9L187.3 60.8L188.6 61.4L186.6 54.9L184.7 61.4L186.0 60.8L186.0 61.9ZM200.1 63.0L200.4 59.8L201.7 60.6L200.4 53.9L197.8 60.1L199.2 59.6L198.8 62.8ZM213.4 63.0L213.8 59.8L215.0 60.6L213.8 53.9L211.1 60.1L212.5 59.6L212.1 62.8ZM226.8 62.5L227.0 60.3L228.2 61.1L227.1 54.4L224.4 60.6L225.7 60.1L225.5 62.3ZM240.4 60.9L240.4 60.4L241.4 60.9L239.9 55.9L238.4 60.9L239.4 60.4L239.4 60.9ZM252.62 58.40a0.65 0.65 0 1 0 1.30 0a0.65 0.65 0 1 0 -1.30 0ZM265.95 58.40a0.65 0.65 0 1 0 1.30 0a0.65 0.65 0 1 0 -1.30 0ZM12.0 71.7L12.2 72.0L11.4 72.1L14.3 74.5L13.2 70.9L12.8 71.6L12.6 71.3ZM26.01 73.00a0.65 0.65 0 1 0 1.30 0a0.65 0.65 0 1 0 -1.30 0ZM41.4 72.2L41.1 72.3L41.2 71.6L38.5 73.5L41.8 73.4L41.3 72.9L41.6 72.8ZM58.3 71.9L54.1 72.3L54.6 70.9L48.3 73.5L55.0 74.8L54.2 73.6L58.4 73.1ZM73.2 72.3L66.0 72.3L66.7 71.0L60.2 73.0L66.7 75.0L66.0 73.7L73.2 73.7ZM86.5 72.3L79.3 72.3L80.0 71.0L73.5 73.0L80.0 75.0L79.3 73.7L86.5 73.7ZM99.8 72.3L92.7 72.3L93.3 71.0L86.8 73.0L93.3 75.0L92.7 73.7L99.8 73.7ZM113.1 72.3L106.0 72.3L106.6 71.0L100.1 73.0L106.6 75.0L106.0 73.7L113.1 73.7ZM126.0 72.3L119.8 72.3L120.5 71.0L114.0 73.0L120.5 75.0L119.8 73.7L126.0 73.7ZM138.8 72.3L133.7 72.3L134.3 71.0L127.8 73.0L134.3 75.0L133.7 73.7L138.8 73.7ZM151.6 71.9L147.4 72.3L147.9 70.9L141.6 73.5L148.3 74.8L147.5 73.6L151.7 73.1ZM164.3 74.4L161.5 73.0L162.6 72.2L156.0 71.0L160.9 75.7L160.9 74.2L163.7 75.6ZM177.1 74.4L175.2 73.3L176.4 72.5L169.8 71.0L174.5 75.9L174.5 74.5L176.5 75.6ZM189.4 74.0L188.9 73.7L190.0 73.0L184.1 71.5L188.2 76.0L188.3 74.7L188.8 75.0ZM199.1 71.6L199.2 71.9L198.5 71.8L200.4 74.5L200.3 71.2L199.8 71.7L199.8 71.4ZM213.0 71.8L213.0 72.0L212.5 71.8L213.3 74.2L214.0 71.8L213.5 72.0L213.5 71.8ZM226.4 71.8L226.4 72.0L225.9 71.8L226.6 74.2L227.4 71.8L226.9 72.0L226.9 71.8ZM239.29 73.00a0.65 0.65 0 1 0 1.30 0a0.65 0.65 0 1 0 -1.30 0ZM252.62 73.00a0.65 0.65 0 1 0 1.30 0a0.65 0.65 0 1 0 -1.30 0ZM265.95 73.00a0.65 0.65 0 1 0 1.30 0a0.65 0.65 0 1 0 -1.30 0ZM51.0 85.0L51.5 85.9L50.0 86.0L55.1 90.5L53.3 83.9L52.6 85.2L52.1 84.4ZM63.7 85.0L64.9 86.5L63.5 86.9L69.2 90.6L66.5 84.4L65.9 85.7L64.6 84.2ZM78.2 86.4L78.5 86.7L77.6 87.0L81.5 89.1L79.4 85.2L79.1 86.1L78.8 85.8ZM96.3 87.0L95.7 87.0L96.3 85.8L90.3 87.6L96.3 89.4L95.7 88.2L96.3 88.2ZM100.4 86.0L106.9 88.4L105.9 89.4L112.6 89.8L107.2 85.7L107.4 87.2L100.9 84.8ZM114.1 84.1L120.4 88.7L119.1 89.4L125.5 91.6L121.4 86.2L121.1 87.6L114.9 83.1ZM128.8 83.2L133.1 88.3L131.6 88.7L137.3 92.4L134.6 86.2L134.1 87.5L129.8 82.4ZM144.7 83.0L145.8 86.9L144.3 86.6L147.9 92.4L148.1 85.6L147.0 86.6L146.0 82.6ZM159.1 85.7L159.2 86.1L158.3 85.9L160.5 89.6L160.7 85.3L160.0 85.9L159.9 85.5ZM174.7 86.8L174.4 86.9L174.5 86.2L171.8 88.1L175.1 88.0L174.6 87.5L174.9 87.4ZM184.3 86.5L184.7 86.8L183.7 87.3L188.6 89.1L185.5 84.9L185.3 86.0L184.9 85.7ZM197.0 86.1L197.5 86.5L196.2 87.1L202.4 89.6L198.6 84.1L198.3 85.5L197.8 85.1ZM210.9 86.0L211.3 86.4L210.1 86.8L215.3 89.6L212.5 84.4L212.1 85.6L211.7 85.2ZM225.1 87.9L225.4 87.9L225.1 88.5L228.1 87.6L225.1 86.7L225.4 87.3L225.1 87.3ZM239.29 87.60a0.65 0.65 0 1 0 1.30 0a0.65 0.65 0 1 0 -1.30 0ZM252.62 87.60a0.65 0.65 0 1 0 1.30 0a0.65 0.65 0 1 0 -1.30 0ZM265.95 87.60a0.65 0.65 0 1 0 1.30 0a0.65 0.65 0 1 0 -1.30 0ZM279.28 87.60a0.65 0.65 0 1 0 1.30 0a0.65 0.65 0 1 0 -1.30 0ZM53.0 100.7L53.0 101.0L52.4 100.7L53.3 103.7L54.2 100.7L53.6 101.0L53.6 100.7ZM66.4 100.7L66.4 101.0L65.8 100.7L66.7 103.7L67.6 100.7L67.0 101.0L67.0 100.7ZM79.8 101.2L79.8 101.4L79.4 101.2L80.0 103.2L80.6 101.2L80.2 101.4L80.2 101.2ZM92.66 102.20a0.65 0.65 0 1 0 1.30 0a0.65 0.65 0 1 0 -1.30 0ZM105.99 102.20a0.65 0.65 0 1 0 1.30 0a0.65 0.65 0 1 0 -1.30 0ZM119.8 101.2L119.8 101.4L119.4 101.2L120.0 103.2L120.6 101.2L120.2 101.4L120.2 101.2ZM132.65 102.20a0.65 0.65 0 1 0 1.30 0a0.65 0.65 0 1 0 -1.30 0ZM145.98 102.20a0.65 0.65 0 1 0 1.30 0a0.65 0.65 0 1 0 -1.30 0ZM158.3 101.5L158.6 101.7L157.9 102.1L161.5 103.2L159.1 100.3L159.0 101.1L158.7 100.9ZM172.1 101.4L172.3 101.6L171.7 101.8L174.3 103.2L172.9 100.6L172.7 101.2L172.5 101.0ZM185.4 101.4L185.6 101.6L185.0 101.8L187.6 103.2L186.2 100.6L186.0 101.2L185.8 101.0ZM198.8 101.9L199.0 102.0L198.6 102.3L200.9 102.7L199.2 101.1L199.2 101.6L199.0 101.5ZM212.63 102.20a0.65 0.65 0 1 0 1.30 0a0.65 0.65 0 1 0 -1.30 0ZM225.96 102.20a0.65 0.65 0 1 0 1.30 0a0.65 0.65 0 1 0 -1.30 0ZM239.29 102.20a0.65 0.65 0 1 0 1.30 0a0.65 0.65 0 1 0 -1.30 0ZM252.62 102.20a0.65 0.65 0 1 0 1.30 0a0.65 0.65 0 1 0 -1.30 0ZM265.95 102.20a0.65 0.65 0 1 0 1.30 0a0.65 0.65 0 1 0 -1.30 0Z" fill="#000"/>
<use href="#land"/>
</g>
<use href="#ticks"/>
<rect x="0" y="0" width="307.1" height="102.4" fill="none" stroke="#000" stroke-width="1.2"/>
</g>
<path d="M640 290.9H656" stroke="#000" stroke-width="1.5"/><path d="M655 289.0L662 290.9L655 292.8Z" fill="#000"/>
<g transform="translate(35.4 437.6)">
<g clip-path="url(#pc)">
<path d="M50.7 45.6 L64.7 44.5 L83.4 43.3 L104.4 42.1 L116.1 38.6 L130.1 33.9 L146.4 30.4 L154.6 30.0 L154.6 63.1 L139.4 63.1 L125.4 58.5 L106.7 56.6 L88.0 56.6 L74.0 55.0 L69.3 50.3 L55.3 46.8Z" fill="#e2edf3"/>
<path d="M104.4 51.5 L118.4 48.0 L134.7 45.6 L154.6 44.9 L154.6 58.5 L134.7 58.5 L118.4 55.7 L106.7 53.3Z" fill="#acd4e5"/>
<path d="M76.4 72.5 L88.0 70.1 L95.0 66.6 L104.4 70.1 L113.7 74.8 L117.2 79.5 L109.1 84.2 L106.7 91.2 L110.2 98.2 L106.7 99.3 L99.7 91.2 L90.4 88.8 L83.4 81.8 L77.5 77.2Z" fill="#e2edf3"/>
<path d="M117.2 71.3 L125.4 67.8 L131.2 71.3 L125.4 73.6 L118.4 73.6Z" fill="#e2edf3"/>
<path d="M13.3 58.5 L25.0 57.3 L32.0 60.8 L27.3 65.5 L18.0 65.5 L13.3 62.0Z" fill="#e2edf3"/>
<path d="M149.6 40.9 L173.0 40.9 L196.3 42.1 L219.7 39.8 L243.0 39.3 L257.0 37.4 L266.4 36.3 L273.4 40.9 L272.2 49.1 L273.4 65.5 L266.4 66.6 L257.0 65.5 L243.0 63.1 L233.7 65.5 L219.7 70.1 L210.3 76.0 L201.0 72.5 L184.6 65.5 L173.0 63.1 L149.6 63.1Z" fill="#e2edf3"/>
<path d="M149.6 43.3 L184.6 42.1 L219.7 40.9 L243.0 40.9 L257.0 39.8 L266.4 38.6 L271.1 42.1 L271.1 51.5 L261.7 53.8 L259.4 65.5 L250.0 62.0 L231.4 60.8 L219.7 65.5 L210.3 66.6 L196.3 64.3 L177.6 59.6 L163.6 59.6 L149.6 60.8Z" fill="#acd4e5"/>
<path d="M154.3 51.5 L173.0 47.3 L196.3 45.6 L219.7 44.5 L243.0 45.6 L253.5 48.0 L254.7 51.5 L247.7 53.3 L226.7 55.0 L205.7 58.0 L184.6 56.6 L163.6 55.0 L155.4 53.8Z" fill="#62a7cb"/>
<path d="M182.3 51.5 L191.6 49.6 L203.3 49.1 L212.7 49.6 L217.3 51.5 L210.3 53.1 L196.3 53.8 L184.6 53.1Z" fill="#3e73b4"/>
<path d="M260.5 51.5 L265.2 51.0 L266.4 54.3 L261.7 55.0Z" fill="#62a7cb"/>
<path d="M219.7 90.7 L226.7 90.0 L229.0 93.0 L220.8 93.5Z" fill="#f3e6dc"/>
<use href="#land"/>
<use href="#boxes"/>
</g>
<use href="#ticks"/>
<rect x="0" y="0" width="307.1" height="102.4" fill="none" stroke="#000" stroke-width="1.2"/>
</g>
<g transform="translate(374.7 437.6)">
<g clip-path="url(#pc)">
<path d="M20.8 10.7 L26.5 8.5 L31.0 9.6 L26.5 13.0 L21.9 13.4Z" fill="#f3eac9"/>
<path d="M50.2 19.8 L58.1 15.2 L67.2 14.1 L76.2 18.6 L83.0 22.0 L74.0 25.4 L60.4 26.6 L51.3 24.3Z" fill="#f3eac9"/>
<path d="M89.8 22.0 L98.9 16.4 L105.7 15.2 L104.5 19.8 L98.9 23.2Z" fill="#f3eac9"/>
<path d="M135.1 26.6 L144.1 17.5 L154.3 8.5 L154.3 24.3 L144.1 28.8Z" fill="#d7f0ea"/>
<path d="M83.0 43.5 L94.3 41.3 L112.4 39.0 L130.5 35.6 L146.4 33.3 L154.3 32.2 L154.3 39.0 L144.1 40.1 L126.0 42.4 L107.9 44.7 L89.8 45.8 L84.2 45.8Z" fill="#d7f0ea"/>
<path d="M8.4 35.6 L21.9 33.3 L33.2 36.7 L44.6 40.1 L55.9 42.4 L67.2 44.7 L74.0 46.9 L67.2 49.2 L55.9 48.0 L40.0 50.3 L26.5 52.6 L12.9 51.4 L8.4 44.7Z" fill="#86cfbb"/>
<path d="M10.6 35.6 L21.9 35.6 L24.2 39.0 L17.4 41.3 L11.7 40.1Z" fill="#3c8b7a"/>
<path d="M26.5 44.7 L35.5 42.4 L42.3 44.7 L40.0 48.0 L31.0 49.2Z" fill="#3c8b7a"/>
<path d="M8.4 48.0 L15.1 48.0 L17.4 51.4 L10.6 52.6Z" fill="#3c8b7a"/>
<path d="M117.0 50.3 L126.0 48.0 L139.6 46.9 L154.3 45.8 L154.3 59.4 L139.6 57.1 L126.0 57.1 L117.0 56.0Z" fill="#d2b772"/>
<path d="M130.5 52.6 L141.9 49.6 L154.3 48.0 L154.3 57.1 L144.1 56.0 L132.8 55.5Z" fill="#a06a2b"/>
<path d="M16.9 66.2 L20.1 65.0 L21.5 67.7 L18.3 69.1Z" fill="#a06a2b"/>
<path d="M88.7 72.9 L92.1 70.7 L95.5 72.9 L92.1 75.2Z" fill="#86cfbb"/>
<path d="M128.3 70.7 L135.1 69.5 L137.3 72.9 L130.5 74.1Z" fill="#86cfbb"/>
<path d="M115.8 79.7 L126.0 80.9 L135.1 85.4 L144.1 89.9 L154.3 94.4 L154.3 100.1 L144.1 99.0 L135.1 94.4 L126.0 89.9 L117.0 84.3Z" fill="#d7f0ea"/>
<path d="M121.5 83.1 L130.5 84.3 L139.6 88.8 L148.6 94.4 L144.1 96.7 L135.1 92.2 L126.0 87.6Z" fill="#86cfbb"/>
<path d="M54.7 85.4 L60.4 80.9 L67.2 80.9 L64.9 85.4 L58.1 89.9 L54.7 92.2Z" fill="#86cfbb"/>
<path d="M85.3 94.4 L94.3 91.0 L101.1 93.3 L102.3 99.0 L92.1 100.1 L86.4 99.0Z" fill="#f3eac9"/>
<path d="M154.3 6.2 L165.6 2.8 L170.1 3.9 L165.6 8.5 L154.3 11.8Z" fill="#d7f0ea"/>
<path d="M154.3 31.1 L161.1 27.7 L170.1 25.4 L174.7 26.6 L172.4 31.1 L163.4 34.5 L154.3 35.6Z" fill="#86cfbb"/>
<path d="M154.3 44.7 L172.4 43.5 L188.2 43.5 L199.6 42.4 L213.1 43.5 L217.7 45.8 L240.3 48.0 L253.9 51.4 L253.9 56.0 L240.3 57.1 L222.2 57.1 L206.3 58.2 L195.0 59.4 L181.5 59.4 L167.9 59.4 L154.3 59.4Z" fill="#d2b772"/>
<path d="M154.3 45.8 L167.9 45.8 L181.5 48.0 L192.8 52.6 L199.6 54.8 L190.5 56.0 L176.9 56.0 L163.4 56.0 L154.3 55.5Z" fill="#a06a2b"/>
<path d="M215.4 44.7 L229.0 46.9 L244.8 50.3 L253.9 52.6 L251.6 57.1 L240.3 57.1 L222.2 54.8 L215.4 50.3Z" fill="#f3eac9"/>
<path d="M268.6 48.0 L272.0 48.0 L272.0 56.0 L269.2 56.0Z" fill="#d2b772"/>
<path d="M217.7 75.2 L222.2 74.1 L226.7 76.3 L224.4 79.7 L218.8 79.7Z" fill="#d2b772"/>
<path d="M276.5 6.2 L290.1 1.7 L304.8 1.7 L304.8 13.0 L294.6 10.7 L285.5 10.7Z" fill="#f3eac9"/>
<path d="M285.5 26.6 L299.1 25.4 L304.8 26.6 L304.8 31.1 L290.1 31.1Z" fill="#f3eac9"/>
<path d="M190.5 87.6 L215.4 96.7 L219.9 101.2 L210.9 102.4 L190.5 92.2Z" fill="#d7f0ea"/>
<path d="M191.6 88.8 L199.6 88.8 L208.6 94.4 L215.4 99.0 L208.6 100.1 L199.6 95.6 L192.8 92.2Z" fill="#86cfbb"/>
<path d="M173.5 86.5 L176.9 85.4 L179.2 89.9 L175.8 91.0Z" fill="#d2b772"/>
<path d="M154.3 83.1 L156.6 83.6 L156.6 88.1 L154.3 88.1Z" fill="#86cfbb"/>
<path d="M15.1 14.2L14.7 14.2L15.1 13.5L11.6 14.6L15.1 15.7L14.7 14.9L15.1 14.9ZM28.4 14.2L28.1 14.2L28.4 13.5L24.9 14.6L28.4 15.7L28.1 14.9L28.4 14.9ZM41.7 14.2L41.4 14.2L41.7 13.5L38.2 14.6L41.7 15.7L41.4 14.9L41.7 14.9ZM55.1 14.2L54.7 14.2L55.1 13.5L51.6 14.6L55.1 15.7L54.7 14.9L55.1 14.9ZM68.4 14.2L68.1 14.2L68.4 13.5L64.9 14.6L68.4 15.7L68.1 14.9L68.4 14.9ZM79.33 14.60a0.65 0.65 0 1 0 1.30 0a0.65 0.65 0 1 0 -1.30 0ZM92.66 14.60a0.65 0.65 0 1 0 1.30 0a0.65 0.65 0 1 0 -1.30 0ZM105.99 14.60a0.65 0.65 0 1 0 1.30 0a0.65 0.65 0 1 0 -1.30 0ZM119.32 14.60a0.65 0.65 0 1 0 1.30 0a0.65 0.65 0 1 0 -1.30 0ZM132.65 14.60a0.65 0.65 0 1 0 1.30 0a0.65 0.65 0 1 0 -1.30 0ZM146.4 13.6L146.4 13.8L146.0 13.6L146.6 15.6L147.2 13.6L146.8 13.8L146.8 13.6ZM160.2 15.8L160.2 15.6L160.7 15.8L160.0 13.3L159.2 15.8L159.7 15.6L159.7 15.8ZM173.6 16.4L173.6 16.0L174.3 16.4L173.3 12.8L172.2 16.4L172.9 16.0L172.9 16.4ZM185.97 14.60a0.65 0.65 0 1 0 1.30 0a0.65 0.65 0 1 0 -1.30 0ZM199.30 14.60a0.65 0.65 0 1 0 1.30 0a0.65 0.65 0 1 0 -1.30 0ZM212.63 14.60a0.65 0.65 0 1 0 1.30 0a0.65 0.65 0 1 0 -1.30 0ZM225.96 14.60a0.65 0.65 0 1 0 1.30 0a0.65 0.65 0 1 0 -1.30 0ZM252.62 14.60a0.65 0.65 0 1 0 1.30 0a0.65 0.65 0 1 0 -1.30 0ZM265.95 14.60a0.65 0.65 0 1 0 1.30 0a0.65 0.65 0 1 0 -1.30 0ZM279.28 14.60a0.65 0.65 0 1 0 1.30 0a0.65 0.65 0 1 0 -1.30 0ZM293.5 15.8L293.5 15.6L294.0 15.8L293.3 13.3L292.5 15.8L293.0 15.6L293.0 15.8ZM14.3 29.0L14.1 29.0L14.3 28.6L12.3 29.2L14.3 29.8L14.1 29.4L14.3 29.4ZM26.01 29.20a0.65 0.65 0 1 0 1.30 0a0.65 0.65 0 1 0 -1.30 0ZM39.34 29.20a0.65 0.65 0 1 0 1.30 0a0.65 0.65 0 1 0 -1.30 0ZM54.6 28.9L54.3 28.9L54.6 28.4L52.1 29.2L54.6 29.9L54.3 29.4L54.6 29.4ZM67.9 28.9L67.7 28.9L67.9 28.4L65.4 29.2L67.9 29.9L67.7 29.4L67.9 29.4ZM81.2 28.9L81.0 28.9L81.2 28.4L78.7 29.2L81.2 29.9L81.0 29.4L81.2 29.4ZM94.2 28.5L94.0 28.6L94.0 28.1L92.3 29.7L94.6 29.3L94.2 29.0L94.4 28.9ZM105.99 29.20a0.65 0.65 0 1 0 1.30 0a0.65 0.65 0 1 0 -1.30 0ZM121.0 29.0L120.8 29.0L121.0 28.6L119.0 29.2L121.0 29.8L120.8 29.4L121.0 29.4ZM134.6 28.9L134.3 28.9L134.6 28.4L132.1 29.2L134.6 29.9L134.3 29.4L134.6 29.4ZM148.3 29.9L148.0 29.7L148.7 29.3L145.1 28.2L147.5 31.1L147.6 30.3L147.9 30.5ZM160.3 30.7L160.3 30.4L160.9 30.7L160.0 27.7L159.1 30.7L159.7 30.4L159.7 30.7ZM173.6 30.9L173.6 30.6L174.3 30.9L173.3 27.4L172.2 30.9L172.9 30.6L172.9 30.9ZM185.97 29.20a0.65 0.65 0 1 0 1.30 0a0.65 0.65 0 1 0 -1.30 0ZM199.30 29.20a0.65 0.65 0 1 0 1.30 0a0.65 0.65 0 1 0 -1.30 0ZM214.3 29.0L214.1 29.0L214.3 28.6L212.3 29.2L214.3 29.8L214.1 29.4L214.3 29.4ZM227.9 28.9L227.6 28.9L227.9 28.4L225.4 29.2L227.9 29.9L227.6 29.4L227.9 29.4ZM240.9 29.0L240.7 29.0L240.9 28.6L238.9 29.2L240.9 29.8L240.7 29.4L240.9 29.4ZM252.62 29.20a0.65 0.65 0 1 0 1.30 0a0.65 0.65 0 1 0 -1.30 0ZM280.9 29.0L280.7 29.0L280.9 28.6L278.9 29.2L280.9 29.8L280.7 29.4L280.9 29.4ZM293.5 30.4L293.5 30.2L294.0 30.4L293.3 27.9L292.5 30.4L293.0 30.2L293.0 30.4ZM15.3 43.4L14.9 43.4L15.3 42.6L11.3 43.8L15.3 45.0L14.9 44.2L15.3 44.2ZM27.9 43.5L27.7 43.5L27.9 43.0L25.4 43.8L27.9 44.5L27.7 44.0L27.9 44.0ZM39.34 43.80a0.65 0.65 0 1 0 1.30 0a0.65 0.65 0 1 0 -1.30 0ZM52.67 43.80a0.65 0.65 0 1 0 1.30 0a0.65 0.65 0 1 0 -1.30 0ZM66.00 43.80a0.65 0.65 0 1 0 1.30 0a0.65 0.65 0 1 0 -1.30 0ZM79.33 43.80a0.65 0.65 0 1 0 1.30 0a0.65 0.65 0 1 0 -1.30 0ZM92.66 43.80a0.65 0.65 0 1 0 1.30 0a0.65 0.65 0 1 0 -1.30 0ZM105.99 43.80a0.65 0.65 0 1 0 1.30 0a0.65 0.65 0 1 0 -1.30 0ZM120.5 46.3L120.5 45.8L121.5 46.3L120.0 41.3L118.5 46.3L119.5 45.8L119.5 46.3ZM133.9 46.8L133.9 46.2L135.1 46.8L133.3 40.8L131.5 46.8L132.7 46.2L132.7 46.8ZM147.1 46.3L147.1 45.8L148.1 46.3L146.6 41.3L145.1 46.3L146.1 45.8L146.1 46.3ZM161.3 46.4L161.1 45.9L162.4 46.1L159.2 41.0L159.1 47.0L160.0 46.1L160.2 46.7ZM174.5 46.1L174.4 45.6L175.5 45.8L172.5 41.3L172.5 46.8L173.4 45.9L173.5 46.4ZM187.8 45.6L187.6 45.2L188.6 45.3L185.9 41.8L186.2 46.2L186.8 45.5L187.0 45.9ZM200.9 43.6L200.8 43.6L200.9 43.2L198.9 43.8L200.9 44.4L200.8 44.0L200.9 44.0ZM214.3 43.6L214.1 43.6L214.3 43.2L212.3 43.8L214.3 44.4L214.1 44.0L214.3 44.0ZM227.6 43.6L227.4 43.6L227.6 43.2L225.6 43.8L227.6 44.4L227.4 44.0L227.6 44.0ZM239.29 43.80a0.65 0.65 0 1 0 1.30 0a0.65 0.65 0 1 0 -1.30 0ZM252.62 43.80a0.65 0.65 0 1 0 1.30 0a0.65 0.65 0 1 0 -1.30 0ZM267.6 43.6L267.4 43.6L267.6 43.2L265.6 43.8L267.6 44.4L267.4 44.0L267.6 44.0ZM13.1 57.1L13.1 57.4L12.6 57.1L13.3 59.6L14.1 57.1L13.6 57.4L13.6 57.1ZM54.4 58.7L54.2 58.6L54.6 58.3L52.3 57.9L54.0 59.5L54.0 59.0L54.2 59.1ZM68.4 59.1L68.1 58.9L68.8 58.5L65.2 57.4L67.6 60.3L67.7 59.5L68.0 59.7ZM81.1 58.7L80.9 58.6L81.3 58.3L79.0 57.9L80.7 59.5L80.7 59.0L80.9 59.1ZM92.66 58.40a0.65 0.65 0 1 0 1.30 0a0.65 0.65 0 1 0 -1.30 0ZM105.99 58.40a0.65 0.65 0 1 0 1.30 0a0.65 0.65 0 1 0 -1.30 0ZM122.9 57.3L122.3 57.4L122.7 56.1L117.0 58.9L123.3 59.7L122.5 58.6L123.1 58.5ZM136.7 57.3L135.5 57.4L136.0 56.1L129.8 58.9L136.5 59.9L135.7 58.7L136.9 58.5ZM150.0 57.3L148.8 57.4L149.3 56.1L143.1 58.9L149.8 59.9L149.0 58.7L150.2 58.5ZM163.4 57.3L162.2 57.4L162.6 56.1L156.5 58.9L163.2 59.9L162.3 58.7L163.6 58.5ZM176.7 57.3L175.5 57.4L175.9 56.1L169.8 58.9L176.5 59.9L175.7 58.7L176.9 58.5ZM190.0 57.3L188.8 57.4L189.3 56.1L183.1 58.9L189.8 59.9L189.0 58.7L190.2 58.5ZM201.4 58.1L201.1 58.1L201.4 57.5L198.4 58.4L201.4 59.3L201.1 58.7L201.4 58.7ZM214.3 58.2L214.1 58.2L214.3 57.8L212.3 58.4L214.3 59.0L214.1 58.6L214.3 58.6ZM227.6 58.2L227.4 58.2L227.6 57.8L225.6 58.4L227.6 59.0L227.4 58.6L227.6 58.6ZM239.29 58.40a0.65 0.65 0 1 0 1.30 0a0.65 0.65 0 1 0 -1.30 0ZM252.62 58.40a0.65 0.65 0 1 0 1.30 0a0.65 0.65 0 1 0 -1.30 0ZM267.6 58.2L267.4 58.2L267.6 57.8L265.6 58.4L267.6 59.0L267.4 58.6L267.6 58.6ZM12.68 73.00a0.65 0.65 0 1 0 1.30 0a0.65 0.65 0 1 0 -1.30 0ZM52.67 73.00a0.65 0.65 0 1 0 1.30 0a0.65 0.65 0 1 0 -1.30 0ZM66.9 74.2L66.9 74.0L67.4 74.2L66.7 71.8L65.9 74.2L66.4 74.0L66.4 74.2ZM80.3 74.8L80.3 74.4L81.0 74.8L80.0 71.2L78.9 74.8L79.6 74.4L79.6 74.8ZM94.3 72.8L94.1 72.8L94.3 72.4L92.3 73.0L94.3 73.6L94.1 73.2L94.3 73.2ZM107.9 72.8L107.6 72.8L107.9 72.2L105.4 73.0L107.9 73.8L107.6 73.2L107.9 73.2ZM118.1 71.3L118.4 71.7L117.3 71.9L121.5 75.0L119.7 70.1L119.2 71.1L118.9 70.7ZM131.5 71.8L131.8 72.1L130.9 72.4L134.8 74.5L132.7 70.6L132.4 71.5L132.1 71.2ZM145.8 71.6L145.9 71.9L145.2 71.8L147.1 74.5L147.0 71.2L146.5 71.7L146.4 71.4ZM160.5 71.8L160.4 72.0L160.1 71.5L159.2 74.0L161.3 72.5L160.8 72.4L160.9 72.2ZM174.3 72.8L174.1 72.8L174.3 72.4L172.3 73.0L174.3 73.6L174.1 73.2L174.3 73.2ZM187.5 72.3L187.3 72.4L187.3 71.9L185.6 73.5L187.9 73.1L187.5 72.8L187.7 72.7ZM199.30 73.00a0.65 0.65 0 1 0 1.30 0a0.65 0.65 0 1 0 -1.30 0ZM214.4 73.3L214.2 73.2L214.6 72.9L212.3 72.5L214.0 74.1L214.0 73.6L214.2 73.7ZM227.6 72.8L227.4 72.8L227.6 72.4L225.6 73.0L227.6 73.6L227.4 73.2L227.6 73.2ZM239.29 73.00a0.65 0.65 0 1 0 1.30 0a0.65 0.65 0 1 0 -1.30 0ZM252.62 73.00a0.65 0.65 0 1 0 1.30 0a0.65 0.65 0 1 0 -1.30 0ZM265.95 73.00a0.65 0.65 0 1 0 1.30 0a0.65 0.65 0 1 0 -1.30 0ZM54.3 87.4L54.1 87.4L54.3 87.0L52.3 87.6L54.3 88.2L54.1 87.8L54.3 87.8ZM66.4 86.1L66.4 86.4L65.8 86.1L66.7 89.1L67.6 86.1L67.0 86.4L67.0 86.1ZM81.5 87.3L81.2 87.3L81.5 86.7L78.5 87.6L81.5 88.5L81.2 87.9L81.5 87.9ZM93.7 89.6L93.7 89.2L94.5 89.6L93.3 85.6L92.1 89.6L92.9 89.2L92.9 89.6ZM107.0 89.6L107.0 89.2L107.8 89.6L106.6 85.6L105.4 89.6L106.2 89.2L106.2 89.6ZM117.4 87.8L117.9 87.9L117.3 88.8L122.5 87.8L117.6 85.8L118.0 86.9L117.5 86.8ZM128.5 86.2L132.2 87.8L131.1 88.7L137.8 89.6L132.7 85.2L132.7 86.6L129.1 85.0ZM144.1 85.0L144.8 86.1L143.4 86.3L148.6 90.6L146.6 84.1L145.9 85.4L145.2 84.2ZM158.8 84.2L159.0 85.4L157.6 84.9L160.5 91.1L161.5 84.4L160.3 85.2L160.1 84.0ZM174.3 87.4L174.1 87.4L174.3 87.0L172.3 87.6L174.3 88.2L174.1 87.8L174.3 87.8ZM184.5 87.5L184.9 87.6L184.3 88.3L188.6 88.1L184.9 85.9L185.1 86.8L184.7 86.7ZM198.2 86.9L198.6 87.1L197.8 87.5L201.4 88.6L199.0 85.7L198.9 86.5L198.6 86.3ZM211.6 86.9L211.9 87.1L211.2 87.5L214.8 88.6L212.4 85.7L212.3 86.5L212.0 86.3ZM225.96 87.60a0.65 0.65 0 1 0 1.30 0a0.65 0.65 0 1 0 -1.30 0ZM239.29 87.60a0.65 0.65 0 1 0 1.30 0a0.65 0.65 0 1 0 -1.30 0ZM252.62 87.60a0.65 0.65 0 1 0 1.30 0a0.65 0.65 0 1 0 -1.30 0ZM265.95 87.60a0.65 0.65 0 1 0 1.30 0a0.65 0.65 0 1 0 -1.30 0ZM279.28 87.60a0.65 0.65 0 1 0 1.30 0a0.65 0.65 0 1 0 -1.30 0ZM52.67 102.20a0.65 0.65 0 1 0 1.30 0a0.65 0.65 0 1 0 -1.30 0ZM66.9 103.5L66.9 103.2L67.4 103.5L66.7 101.0L65.9 103.5L66.4 103.2L66.4 103.5ZM79.33 102.20a0.65 0.65 0 1 0 1.30 0a0.65 0.65 0 1 0 -1.30 0ZM92.66 102.20a0.65 0.65 0 1 0 1.30 0a0.65 0.65 0 1 0 -1.30 0ZM106.8 103.2L106.8 103.0L107.2 103.2L106.6 101.2L106.0 103.2L106.4 103.0L106.4 103.2ZM120.2 103.2L120.2 103.0L120.6 103.2L120.0 101.2L119.4 103.2L119.8 103.0L119.8 103.2ZM132.65 102.20a0.65 0.65 0 1 0 1.30 0a0.65 0.65 0 1 0 -1.30 0ZM146.4 101.2L146.4 101.4L146.0 101.2L146.6 103.2L147.2 101.2L146.8 101.4L146.8 101.2ZM159.8 101.2L159.8 101.4L159.4 101.2L160.0 103.2L160.6 101.2L160.2 101.4L160.2 101.2ZM172.64 102.20a0.65 0.65 0 1 0 1.30 0a0.65 0.65 0 1 0 -1.30 0ZM185.97 102.20a0.65 0.65 0 1 0 1.30 0a0.65 0.65 0 1 0 -1.30 0ZM199.30 102.20a0.65 0.65 0 1 0 1.30 0a0.65 0.65 0 1 0 -1.30 0ZM212.63 102.20a0.65 0.65 0 1 0 1.30 0a0.65 0.65 0 1 0 -1.30 0ZM225.96 102.20a0.65 0.65 0 1 0 1.30 0a0.65 0.65 0 1 0 -1.30 0ZM239.29 102.20a0.65 0.65 0 1 0 1.30 0a0.65 0.65 0 1 0 -1.30 0ZM252.62 102.20a0.65 0.65 0 1 0 1.30 0a0.65 0.65 0 1 0 -1.30 0ZM265.95 102.20a0.65 0.65 0 1 0 1.30 0a0.65 0.65 0 1 0 -1.30 0Z" fill="#000"/>
<use href="#land"/>
</g>
<use href="#ticks"/>
<rect x="0" y="0" width="307.1" height="102.4" fill="none" stroke="#000" stroke-width="1.2"/>
</g>
<path d="M640 428.5H656" stroke="#000" stroke-width="1.5"/><path d="M655 426.6L662 428.5L655 430.4Z" fill="#000"/>
<g transform="translate(35.4 575.0)">
<g clip-path="url(#pc)">
<path d="M11.0 1.5 L41.3 0.1 L76.4 -0.3 L71.7 2.5 L53.0 4.3 L29.6 6.7Z" fill="#f3e6dc"/>
<path d="M2.8 14.9 L8.6 10.2 L22.6 6.7 L41.3 3.9 L55.3 2.0 L69.3 0.8 L64.7 3.2 L48.3 6.7 L32.0 11.4 L20.3 17.2 L8.6 20.7 L3.5 20.7Z" fill="#ecb597"/>
<path d="M77.5 25.4 L92.7 20.7 L106.7 16.0 L125.4 7.8 L144.1 2.0 L154.6 0.8 L154.6 18.4 L139.4 20.7 L125.4 23.0 L106.7 24.2 L88.0 26.5 L78.7 27.2Z" fill="#e2edf3"/>
<path d="M102.0 20.7 L111.4 14.9 L125.4 9.0 L144.1 3.2 L154.6 2.0 L154.6 11.4 L144.1 14.9 L130.1 18.4 L116.1 20.7 L104.4 21.9Z" fill="#acd4e5"/>
<path d="M48.3 40.5 L55.3 37.0 L64.7 34.7 L78.7 33.5 L83.4 37.0 L74.0 40.5 L64.7 42.9 L55.3 45.2 L49.5 44.1Z" fill="#e2edf3"/>
<path d="M86.9 49.9 L95.0 46.4 L104.4 45.2 L116.1 46.4 L118.4 52.2 L111.4 54.6 L99.7 53.4 L88.0 52.2Z" fill="#e2edf3"/>
<path d="M125.4 48.7 L134.7 45.2 L146.4 45.2 L154.6 46.4 L154.6 55.7 L144.1 55.3 L130.1 54.6 L125.4 53.4Z" fill="#e2edf3"/>
<path d="M6.3 44.1 L13.3 42.9 L22.6 47.6 L29.6 52.2 L41.3 58.1 L55.3 60.4 L69.3 62.7 L83.4 65.1 L97.4 66.2 L111.4 65.1 L111.4 61.6 L125.4 62.7 L139.4 65.1 L154.6 67.4 L154.6 83.8 L144.1 79.1 L130.1 74.4 L116.1 69.7 L102.0 69.3 L83.4 69.7 L69.3 67.4 L55.3 66.2 L41.3 63.9 L29.6 59.2 L20.3 53.4 L11.0 49.9 L6.3 47.6Z" fill="#f3e6dc"/>
<path d="M151.6 72.1 L154.6 70.9 L154.6 78.6 L152.3 77.9Z" fill="#ecb597"/>
<path d="M36.6 69.7 L48.3 68.6 L64.7 70.9 L83.4 73.2 L97.4 73.2 L116.1 75.6 L134.7 80.3 L154.6 86.1 L154.6 97.8 L134.7 95.4 L116.1 93.1 L99.7 93.1 L83.4 95.4 L64.7 93.1 L53.0 88.4 L41.3 79.1 L36.6 72.1Z" fill="#e2edf3"/>
<path d="M113.7 83.8 L120.7 82.6 L126.6 87.3 L121.9 89.6 L114.9 87.3Z" fill="#acd4e5"/>
<path d="M149.6 0.8 L163.6 0.1 L168.3 4.3 L158.9 9.0 L149.6 13.7Z" fill="#e2edf3"/>
<path d="M149.6 2.0 L158.9 0.8 L161.3 4.3 L154.3 7.8 L149.6 9.0Z" fill="#acd4e5"/>
<path d="M149.6 63.9 L163.6 62.7 L184.6 63.9 L205.7 65.1 L212.7 69.7 L217.3 76.8 L231.4 81.4 L243.0 83.8 L238.4 86.1 L219.7 87.3 L196.3 84.9 L173.0 83.8 L158.9 82.6 L149.6 81.4Z" fill="#f3e6dc"/>
<path d="M151.9 72.1 L161.3 70.9 L173.0 73.2 L184.6 75.6 L196.3 79.1 L210.3 80.3 L212.7 82.6 L201.0 83.3 L184.6 82.6 L168.3 81.4 L156.6 79.1 L151.9 76.8Z" fill="#ecb597"/>
<path d="M149.6 88.4 L163.6 90.8 L177.6 95.4 L187.0 100.1 L184.6 103.6 L163.6 102.4 L149.6 97.8Z" fill="#e2edf3"/>
<path d="M158.9 97.8 L170.6 97.8 L177.6 101.3 L168.3 102.4 L161.3 101.3Z" fill="#acd4e5"/>
<path d="M223.2 48.3 L250.0 48.3 L254.7 53.4 L224.3 53.9Z" fill="#e2edf3"/>
<path d="M225.5 50.6 L233.7 49.2 L243.0 49.2 L247.7 51.1 L241.9 52.9 L231.4 52.9Z" fill="#acd4e5"/>
<path d="M280.4 4.3 L294.4 1.5 L304.9 0.8 L304.9 4.3 L289.7 6.7 L281.6 6.7Z" fill="#ecb597"/>
<path d="M267.6 31.2 L271.5 31.9 L272.2 35.9 L268.7 35.9Z" fill="#ecb597"/>
<path d="M266.4 41.7 L273.4 41.7 L273.4 47.6 L267.6 47.6Z" fill="#e2edf3"/>
<path d="M190.5 2.0 L195.1 2.0 L195.1 6.7 L191.2 6.7Z" fill="#f3e6dc"/>
<use href="#land"/>
<use href="#boxes"/>
</g>
<use href="#ticks"/>
<rect x="0" y="0" width="307.1" height="102.4" fill="none" stroke="#000" stroke-width="1.2"/>
</g>
<g transform="translate(374.7 575.0)">
<g clip-path="url(#pc)">
<path d="M17.4 17.1 L33.2 12.6 L55.9 8.1 L67.2 8.1 L62.7 12.6 L44.6 16.0 L26.5 18.2Z" fill="#d7f0ea"/>
<path d="M80.8 14.8 L94.3 11.4 L103.4 12.6 L101.1 21.6 L89.8 23.9 L80.8 21.6Z" fill="#f3eac9"/>
<path d="M16.7 21.6 L44.6 20.7 L67.2 20.3 L99.3 20.3 L112.4 21.6 L112.4 27.3 L99.3 32.7 L67.2 32.7 L44.6 30.7 L16.7 28.4Z" fill="#f3eac9"/>
<path d="M35.5 39.7 L55.9 36.3 L78.5 35.2 L101.1 34.1 L123.8 31.8 L154.3 29.5 L154.3 40.9 L135.1 42.0 L112.4 42.0 L89.8 43.1 L67.2 44.3 L44.6 44.3 L35.5 43.1Z" fill="#d7f0ea"/>
<path d="M44.6 39.7 L67.2 37.0 L89.8 36.3 L112.4 34.8 L135.1 32.9 L154.3 31.8 L154.3 38.6 L135.1 39.7 L112.4 40.2 L89.8 40.9 L67.2 42.0 L44.6 42.4Z" fill="#86cfbb"/>
<path d="M130.5 35.2 L144.1 33.4 L154.3 32.9 L154.3 37.5 L144.1 37.9 L132.8 37.9Z" fill="#3c8b7a"/>
<path d="M139.6 35.7 L148.6 34.8 L154.3 34.8 L154.3 37.0 L144.1 37.5Z" fill="#1d4634"/>
<path d="M117.0 26.2 L135.1 23.9 L154.3 22.8 L154.3 28.4 L135.1 29.5 L117.0 29.5Z" fill="#d7f0ea"/>
<path d="M-0.7 44.3 L12.9 42.0 L33.2 44.3 L55.9 47.6 L74.0 49.9 L89.8 52.2 L112.4 54.4 L135.1 56.7 L154.3 57.8 L154.3 85.0 L144.1 82.7 L135.1 78.2 L123.8 73.7 L107.9 69.1 L94.3 66.9 L78.5 64.6 L62.7 62.4 L44.6 57.8 L28.7 53.3 L17.4 52.2 L-0.7 52.2Z" fill="#d2b772"/>
<path d="M55.9 49.9 L78.5 47.6 L101.1 46.5 L123.8 45.4 L154.3 44.3 L154.3 57.8 L135.1 56.7 L112.4 55.6 L89.8 53.3 L67.2 52.2Z" fill="#f3eac9"/>
<path d="M1.6 45.4 L12.9 43.1 L24.2 45.4 L33.2 48.8 L35.5 53.3 L24.2 53.3 L12.9 52.2 L1.6 49.9Z" fill="#a06a2b"/>
<path d="M3.8 46.5 L10.6 45.4 L17.4 47.6 L12.9 50.6 L6.1 49.9Z" fill="#553210"/>
<path d="M80.8 60.1 L94.3 61.2 L112.4 63.5 L130.5 65.8 L144.1 66.9 L154.3 66.9 L154.3 80.5 L144.1 80.5 L135.1 77.1 L123.8 73.7 L107.9 69.1 L89.8 65.8 L80.8 63.5Z" fill="#a06a2b"/>
<path d="M132.8 66.9 L144.1 65.8 L154.3 65.8 L154.3 77.1 L144.1 77.1 L135.1 73.7Z" fill="#553210"/>
<path d="M-0.7 61.7 L13.8 63.9 L28.5 66.9 L40.3 71.2 L50.2 77.1 L53.4 80.9 L45.2 80.9 L25.3 75.9 L5.2 75.0 L-0.7 75.9Z" fill="#86cfbb"/>
<path d="M-0.7 66.9 L8.4 65.8 L12.9 69.1 L8.4 72.5 L-0.7 72.5Z" fill="#86cfbb"/>
<path d="M24.2 69.1 L33.2 70.3 L40.0 73.7 L42.3 77.1 L35.5 78.2 L26.5 74.8Z" fill="#86cfbb"/>
<path d="M69.4 80.5 L80.8 75.9 L101.1 74.8 L123.8 77.1 L139.6 82.7 L146.4 89.5 L144.1 96.3 L130.5 98.6 L112.4 98.6 L94.3 96.3 L78.5 94.0 L69.4 89.5Z" fill="#d7f0ea"/>
<path d="M74.0 80.5 L89.8 77.1 L112.4 78.2 L130.5 81.6 L141.9 87.2 L139.6 94.0 L126.0 96.3 L107.9 95.2 L89.8 92.9 L76.2 88.4Z" fill="#86cfbb"/>
<path d="M89.8 80.5 L103.4 78.2 L117.0 80.5 L126.0 85.0 L126.0 90.6 L114.7 91.8 L101.1 89.5 L89.8 85.0Z" fill="#3c8b7a"/>
<path d="M99.3 34.0 L125.3 33.0 L155.3 31.0 L180.3 30.0 L199.3 29.0 L199.3 34.0 L180.3 37.0 L155.3 39.0 L125.3 39.5 L99.3 40.0Z" fill="#3c8b7a"/>
<path d="M132.3 35.0 L155.3 34.0 L179.3 33.5 L179.3 36.5 L155.3 37.5 L132.3 37.5Z" fill="#1d4634"/>
<path d="M154.3 19.4 L176.9 17.1 L199.6 14.8 L222.2 12.6 L229.0 17.1 L210.9 26.2 L188.2 26.2 L154.3 28.4Z" fill="#d7f0ea"/>
<path d="M154.3 28.4 L172.4 26.2 L188.2 26.2 L199.6 25.0 L208.6 28.4 L206.3 32.9 L188.2 35.2 L172.4 36.3 L154.3 38.6Z" fill="#86cfbb"/>
<path d="M154.3 31.8 L167.9 30.2 L181.5 30.7 L195.0 31.8 L188.2 35.2 L172.4 36.3 L154.3 38.6Z" fill="#3c8b7a"/>
<path d="M154.3 32.9 L167.9 31.8 L176.9 32.9 L167.9 35.2 L154.3 36.3Z" fill="#1d4634"/>
<path d="M197.3 3.5 L210.9 2.4 L213.1 8.1 L201.8 9.2Z" fill="#f3eac9"/>
<path d="M247.1 12.6 L258.4 3.5 L281.0 1.3 L304.8 3.5 L304.8 30.7 L290.1 28.4 L272.0 23.9 L256.1 21.6Z" fill="#f3eac9"/>
<path d="M167.9 42.0 L181.5 40.9 L199.6 40.9 L208.6 43.1 L206.3 46.5 L188.2 46.5 L172.4 46.5Z" fill="#d2b772"/>
<path d="M154.3 47.6 L176.9 47.6 L199.6 47.6 L222.2 49.9 L240.3 53.3 L249.3 56.7 L240.3 60.1 L222.2 61.2 L199.6 60.1 L176.9 59.0 L154.3 59.0Z" fill="#f3eac9"/>
<path d="M172.4 66.9 L199.6 66.9 L222.2 66.9 L240.3 71.4 L244.8 80.5 L233.5 89.5 L222.2 94.0 L199.6 96.3 L176.9 94.0 L167.9 87.2Z" fill="#f3eac9"/>
<path d="M154.3 60.1 L176.9 61.2 L199.6 61.2 L222.2 61.2 L240.3 62.4 L222.2 64.6 L199.6 65.8 L176.9 66.9 L154.3 66.9Z" fill="#d2b772"/>
<path d="M154.3 64.6 L167.9 63.5 L172.4 66.9 L172.4 78.2 L167.9 85.0 L158.8 87.2 L154.3 87.2Z" fill="#d2b772"/>
<path d="M154.3 66.9 L165.6 66.9 L170.1 71.4 L167.9 80.5 L161.1 82.7 L154.3 82.7Z" fill="#a06a2b"/>
<path d="M154.3 69.1 L161.1 69.1 L164.5 73.7 L161.1 78.2 L154.3 79.3Z" fill="#553210"/>
<path d="M244.8 78.2 L253.9 75.9 L260.7 79.3 L256.1 83.9 L247.1 82.7Z" fill="#d7f0ea"/>
<path d="M260.7 46.5 L269.7 44.3 L274.2 47.6 L269.7 53.3 L262.9 53.3Z" fill="#d7f0ea"/>
<path d="M154.3 94.0 L163.4 95.2 L167.9 99.7 L158.8 102.0 L154.3 102.0Z" fill="#d7f0ea"/>
<path d="M276.5 94.0 L283.3 92.9 L285.5 98.6 L278.8 99.7Z" fill="#d7f0ea"/>
<path d="M12.9 12.6L12.9 13.0L12.1 12.6L13.3 16.6L14.5 12.6L13.7 13.0L13.7 12.6ZM25.6 11.7L25.7 12.3L24.4 11.9L27.2 17.6L28.0 11.3L26.9 12.1L26.8 11.5ZM37.0 12.6L37.9 13.4L36.5 13.9L42.5 17.1L39.3 11.1L38.8 12.5L37.9 11.6ZM50.0 13.7L50.8 14.1L49.6 14.9L56.3 16.1L51.4 11.4L51.4 12.9L50.6 12.5ZM63.2 15.2L64.3 15.2L63.7 16.6L70.2 14.6L63.7 12.6L64.3 13.9L63.2 13.9ZM77.2 16.2L77.8 16.0L77.6 17.4L83.0 13.6L76.4 13.8L77.4 14.8L76.8 15.0ZM90.1 17.2L92.1 16.1L92.1 17.5L96.8 12.6L90.2 14.1L91.4 14.9L89.5 16.0ZM105.6 17.4L105.9 16.9L106.6 18.0L108.1 12.1L103.6 16.2L104.9 16.3L104.6 16.8ZM119.9 16.7L120.0 16.3L120.7 16.9L120.5 12.6L118.3 16.3L119.2 16.1L119.1 16.5ZM134.4 14.9L134.2 14.8L134.6 14.5L132.3 14.1L134.0 15.7L134.0 15.2L134.2 15.3ZM145.98 14.60a0.65 0.65 0 1 0 1.30 0a0.65 0.65 0 1 0 -1.30 0ZM161.0 14.4L160.8 14.4L161.0 14.0L159.0 14.6L161.0 15.2L160.8 14.8L161.0 14.8ZM174.3 14.4L174.1 14.4L174.3 14.0L172.3 14.6L174.3 15.2L174.1 14.8L174.3 14.8ZM187.6 14.4L187.4 14.4L187.6 14.0L185.6 14.6L187.6 15.2L187.4 14.8L187.6 14.8ZM200.1 15.6L200.1 15.4L200.5 15.6L199.9 13.6L199.3 15.6L199.8 15.4L199.8 15.6ZM213.6 16.1L213.6 15.8L214.2 16.1L213.3 13.1L212.4 16.1L213.0 15.8L213.0 16.1ZM253.6 16.4L253.6 16.0L254.3 16.4L253.3 12.8L252.2 16.4L252.9 16.0L252.9 16.4ZM269.1 14.1L268.6 14.1L269.1 13.1L264.1 14.6L269.1 16.1L268.6 15.1L269.1 15.1ZM281.4 14.3L281.1 14.3L281.4 13.7L278.4 14.6L281.4 15.5L281.1 14.9L281.4 14.9ZM296.3 14.0L295.7 14.0L296.3 12.8L290.3 14.6L296.3 16.4L295.7 15.2L296.3 15.2ZM15.4 26.2L14.5 27.1L14.0 25.7L10.8 31.7L16.8 28.5L15.4 28.0L16.3 27.2ZM26.1 26.2L26.1 26.8L24.9 26.2L26.7 32.2L28.5 26.2L27.3 26.8L27.3 26.2ZM38.6 27.4L38.8 27.8L37.8 27.8L41.0 31.2L40.2 26.6L39.6 27.4L39.4 27.0ZM51.7 29.0L52.0 29.1L51.5 29.6L54.8 29.7L52.1 27.8L52.2 28.5L51.9 28.4ZM65.1 29.0L65.4 29.1L64.9 29.6L68.2 29.7L65.5 27.8L65.5 28.5L65.2 28.4ZM78.4 29.0L78.7 29.1L78.2 29.6L81.5 29.7L78.8 27.8L78.9 28.5L78.6 28.4ZM91.8 29.5L92.1 29.5L91.8 30.1L94.8 29.2L91.8 28.3L92.1 28.9L91.8 28.9ZM107.9 28.9L107.6 28.9L107.9 28.4L105.4 29.2L107.9 29.9L107.6 29.4L107.9 29.4ZM121.2 28.9L121.0 28.9L121.2 28.4L118.7 29.2L121.2 29.9L121.0 29.4L121.2 29.4ZM134.6 28.9L134.3 28.9L134.6 28.4L132.1 29.2L134.6 29.9L134.3 29.4L134.6 29.4ZM147.9 28.9L147.6 28.9L147.9 28.4L145.4 29.2L147.9 29.9L147.6 29.4L147.9 29.4ZM161.2 28.9L161.0 28.9L161.2 28.4L158.7 29.2L161.2 29.9L161.0 29.4L161.2 29.4ZM174.5 28.9L174.3 28.9L174.5 28.4L172.0 29.2L174.5 29.9L174.3 29.4L174.5 29.4ZM186.9 30.7L186.9 30.4L187.5 30.7L186.6 27.7L185.7 30.7L186.3 30.4L186.3 30.7ZM200.6 32.7L200.6 31.6L201.9 32.2L199.9 25.7L198.0 32.2L199.3 31.6L199.3 32.7ZM213.9 32.2L213.9 31.6L215.1 32.2L213.3 26.2L211.5 32.2L212.7 31.6L212.7 32.2ZM227.9 28.9L227.6 28.9L227.9 28.4L225.4 29.2L227.9 29.9L227.6 29.4L227.9 29.4ZM241.4 28.9L241.1 28.9L241.4 28.3L238.4 29.2L241.4 30.1L241.1 29.5L241.4 29.5ZM254.5 28.9L254.3 28.9L254.5 28.4L252.0 29.2L254.5 29.9L254.3 29.4L254.5 29.4ZM281.4 28.9L281.1 28.9L281.4 28.3L278.4 29.2L281.4 30.1L281.1 29.5L281.4 29.5ZM294.8 28.9L294.5 28.9L294.8 28.3L291.8 29.2L294.8 30.1L294.5 29.5L294.8 29.5ZM15.8 43.3L15.3 43.3L15.8 42.3L10.8 43.8L15.8 45.3L15.3 44.3L15.8 44.3ZM23.9 45.4L24.5 45.2L24.3 46.6L29.7 42.8L23.1 43.0L24.1 44.0L23.5 44.2ZM35.8 46.9L39.7 44.7L39.8 46.2L44.5 41.3L37.9 42.8L39.1 43.6L35.2 45.7ZM49.7 47.8L53.3 44.6L53.7 46.0L57.3 40.3L51.1 43.1L52.5 43.7L48.9 46.8ZM64.2 48.7L66.9 44.5L67.7 45.8L69.7 39.3L64.4 43.6L65.9 43.8L63.1 47.9ZM78.1 49.1L80.4 44.3L81.3 45.5L82.5 38.8L77.8 43.7L79.3 43.7L76.9 48.5ZM91.4 49.6L94.0 43.9L94.9 45.0L95.8 38.3L91.3 43.4L92.8 43.4L90.2 49.0ZM104.7 50.0L107.5 43.4L108.4 44.5L109.1 37.8L104.8 43.0L106.3 42.9L103.5 49.5ZM118.6 50.0L120.7 43.6L121.8 44.6L122.0 37.8L118.1 43.3L119.5 43.1L117.4 49.6ZM132.4 50.4L134.1 43.1L135.2 44.1L134.8 37.3L131.4 43.2L132.9 42.9L131.2 50.2ZM146.3 50.9L147.4 42.7L148.6 43.5L147.6 36.8L144.8 43.0L146.2 42.5L145.0 50.7ZM159.6 51.9L160.9 41.7L162.1 42.5L161.0 35.8L158.2 42.0L159.6 41.5L158.3 51.7ZM173.4 51.8L174.1 41.7L175.3 42.4L173.8 35.8L171.4 42.2L172.8 41.6L172.1 51.8ZM186.8 51.8L187.4 41.7L188.7 42.4L187.1 35.8L184.8 42.2L186.1 41.6L185.5 51.8ZM200.6 47.3L200.6 46.1L201.9 46.8L199.9 40.3L198.0 46.8L199.3 46.1L199.3 47.3ZM213.5 42.4L213.4 42.7L213.0 42.2L212.8 45.0L214.5 42.8L213.9 42.9L214.0 42.6ZM226.8 42.2L226.7 42.5L226.2 42.0L226.1 45.3L228.0 42.6L227.3 42.7L227.4 42.4ZM240.1 42.2L240.0 42.5L239.5 42.0L239.4 45.3L241.3 42.6L240.6 42.7L240.7 42.4ZM253.5 42.2L253.4 42.5L252.9 42.0L252.8 45.3L254.7 42.6L254.0 42.7L254.1 42.4ZM266.8 42.2L266.7 42.5L266.2 42.0L266.1 45.3L268.0 42.6L267.3 42.7L267.4 42.4ZM12.5 57.0L12.6 57.3L11.9 57.2L13.8 59.9L13.7 56.6L13.2 57.1L13.1 56.8ZM39.34 58.40a0.65 0.65 0 1 0 1.30 0a0.65 0.65 0 1 0 -1.30 0ZM52.67 58.40a0.65 0.65 0 1 0 1.30 0a0.65 0.65 0 1 0 -1.30 0ZM67.7 58.2L67.5 58.2L67.7 57.8L65.7 58.4L67.7 59.0L67.5 58.6L67.7 58.6ZM81.1 58.7L80.9 58.6L81.3 58.3L79.0 57.9L80.7 59.5L80.7 59.0L80.9 59.1ZM94.8 60.7L94.6 60.2L95.8 60.3L92.3 55.9L92.8 61.5L93.6 60.6L93.8 61.1ZM109.2 62.1L107.8 59.3L109.3 59.3L104.6 54.4L105.8 61.1L106.7 59.9L108.1 62.7ZM122.6 62.4L121.0 59.2L122.5 59.2L118.0 54.1L119.0 60.9L119.9 59.7L121.4 62.9ZM135.9 62.4L134.4 59.2L135.8 59.2L131.3 54.1L132.3 60.9L133.2 59.7L134.7 62.9ZM149.2 62.6L147.6 59.0L149.1 59.0L144.6 53.9L145.5 60.6L146.4 59.5L148.0 63.2ZM163.0 63.1L160.7 58.3L162.1 58.3L157.5 53.4L158.6 60.1L159.5 58.9L161.9 63.7ZM176.4 62.8L174.1 58.5L175.5 58.5L170.8 53.6L172.1 60.3L172.9 59.1L175.2 63.5ZM189.2 62.1L187.8 59.3L189.3 59.3L184.6 54.4L185.8 61.1L186.7 59.9L188.0 62.7ZM202.0 61.6L201.4 60.0L202.8 60.1L198.4 54.9L199.2 61.6L200.2 60.5L200.9 62.2ZM214.8 60.7L214.6 60.2L215.8 60.3L212.3 55.9L212.8 61.5L213.6 60.6L213.8 61.1ZM228.1 60.7L227.9 60.2L229.1 60.3L225.6 55.9L226.1 61.5L226.9 60.6L227.1 61.1ZM240.9 60.8L240.8 60.3L241.9 60.6L239.4 55.9L238.9 61.2L239.8 60.5L239.9 61.0ZM253.5 59.4L253.5 59.2L253.9 59.4L253.3 57.4L252.7 59.4L253.1 59.2L253.1 59.4ZM266.8 59.4L266.8 59.2L267.2 59.4L266.6 57.4L266.0 59.4L266.4 59.2L266.4 59.4ZM51.5 71.8L51.8 72.1L50.9 72.4L54.8 74.5L52.7 70.6L52.4 71.5L52.1 71.2ZM64.0 72.5L64.5 72.7L63.6 73.5L69.2 74.0L64.8 70.5L64.9 71.7L64.4 71.5ZM78.2 71.8L78.5 72.1L77.6 72.4L81.5 74.5L79.4 70.6L79.1 71.5L78.8 71.2ZM91.3 70.8L91.6 71.3L90.3 71.4L94.8 75.5L93.3 69.6L92.6 70.7L92.3 70.2ZM105.5 70.1L105.6 70.7L104.3 70.3L107.1 76.0L107.9 69.7L106.8 70.5L106.7 69.9ZM121.5 70.1L121.1 70.6L120.5 69.3L118.0 75.5L123.5 71.7L122.1 71.4L122.5 70.9ZM137.1 70.9L134.5 71.8L134.7 70.4L129.3 74.5L136.1 74.0L135.0 73.1L137.5 72.1ZM150.5 71.4L148.1 72.0L148.5 70.5L142.6 74.0L149.4 74.3L148.5 73.2L150.8 72.6ZM162.9 71.9L162.3 72.0L162.7 70.7L157.0 73.5L163.3 74.3L162.5 73.2L163.1 73.1ZM174.3 72.8L174.1 72.8L174.3 72.4L172.3 73.0L174.3 73.6L174.1 73.2L174.3 73.2ZM185.97 73.00a0.65 0.65 0 1 0 1.30 0a0.65 0.65 0 1 0 -1.30 0ZM199.30 73.00a0.65 0.65 0 1 0 1.30 0a0.65 0.65 0 1 0 -1.30 0ZM212.63 73.00a0.65 0.65 0 1 0 1.30 0a0.65 0.65 0 1 0 -1.30 0ZM225.96 73.00a0.65 0.65 0 1 0 1.30 0a0.65 0.65 0 1 0 -1.30 0ZM239.29 73.00a0.65 0.65 0 1 0 1.30 0a0.65 0.65 0 1 0 -1.30 0ZM252.62 73.00a0.65 0.65 0 1 0 1.30 0a0.65 0.65 0 1 0 -1.30 0ZM265.95 73.00a0.65 0.65 0 1 0 1.30 0a0.65 0.65 0 1 0 -1.30 0ZM279.28 73.00a0.65 0.65 0 1 0 1.30 0a0.65 0.65 0 1 0 -1.30 0ZM54.2 86.9L54.0 87.0L54.0 86.5L52.3 88.1L54.6 87.7L54.2 87.4L54.4 87.3ZM69.0 86.1L68.5 86.3L68.6 85.1L64.2 88.6L69.8 88.1L68.9 87.3L69.4 87.1ZM77.8 87.0L78.2 87.2L77.4 87.8L82.0 88.6L78.6 85.4L78.6 86.4L78.2 86.2ZM90.5 86.6L91.0 86.9L89.9 87.6L95.8 89.1L91.7 84.6L91.6 85.9L91.1 85.6ZM104.7 85.9L105.0 86.3L103.9 86.5L108.1 89.6L106.3 84.7L105.8 85.7L105.5 85.3ZM117.0 85.0L118.2 86.5L116.8 86.9L122.5 90.6L119.8 84.4L119.2 85.7L118.0 84.2ZM127.1 85.7L133.7 88.4L132.6 89.4L139.3 90.1L134.1 85.8L134.2 87.2L127.6 84.5ZM137.8 83.2L149.8 90.2L148.5 91.0L155.1 92.6L150.5 87.6L150.4 89.1L138.5 82.0ZM152.0 81.6L162.6 90.8L161.3 91.3L167.5 94.1L163.8 88.4L163.5 89.8L152.9 80.6ZM169.9 85.6L171.4 86.9L170.0 87.4L176.3 90.1L172.5 84.4L172.2 85.9L170.7 84.6ZM184.5 87.5L184.9 87.6L184.3 88.3L188.6 88.1L184.9 85.9L185.1 86.8L184.7 86.7ZM197.8 87.5L198.2 87.6L197.6 88.3L201.9 88.1L198.2 85.9L198.4 86.8L198.0 86.7ZM211.2 87.5L211.6 87.6L211.0 88.3L215.3 88.1L211.6 85.9L211.8 86.8L211.4 86.7ZM224.6 88.0L225.0 88.0L224.6 88.8L228.6 87.6L224.6 86.4L225.0 87.2L224.6 87.2ZM238.4 87.9L238.7 87.9L238.4 88.5L241.4 87.6L238.4 86.7L238.7 87.3L238.4 87.3ZM252.62 87.60a0.65 0.65 0 1 0 1.30 0a0.65 0.65 0 1 0 -1.30 0ZM265.95 87.60a0.65 0.65 0 1 0 1.30 0a0.65 0.65 0 1 0 -1.30 0ZM279.28 87.60a0.65 0.65 0 1 0 1.30 0a0.65 0.65 0 1 0 -1.30 0ZM52.67 102.20a0.65 0.65 0 1 0 1.30 0a0.65 0.65 0 1 0 -1.30 0ZM66.00 102.20a0.65 0.65 0 1 0 1.30 0a0.65 0.65 0 1 0 -1.30 0ZM79.33 102.20a0.65 0.65 0 1 0 1.30 0a0.65 0.65 0 1 0 -1.30 0ZM92.66 102.20a0.65 0.65 0 1 0 1.30 0a0.65 0.65 0 1 0 -1.30 0ZM105.99 102.20a0.65 0.65 0 1 0 1.30 0a0.65 0.65 0 1 0 -1.30 0ZM119.32 102.20a0.65 0.65 0 1 0 1.30 0a0.65 0.65 0 1 0 -1.30 0ZM132.65 102.20a0.65 0.65 0 1 0 1.30 0a0.65 0.65 0 1 0 -1.30 0ZM145.98 102.20a0.65 0.65 0 1 0 1.30 0a0.65 0.65 0 1 0 -1.30 0ZM159.31 102.20a0.65 0.65 0 1 0 1.30 0a0.65 0.65 0 1 0 -1.30 0ZM172.64 102.20a0.65 0.65 0 1 0 1.30 0a0.65 0.65 0 1 0 -1.30 0ZM185.97 102.20a0.65 0.65 0 1 0 1.30 0a0.65 0.65 0 1 0 -1.30 0ZM199.30 102.20a0.65 0.65 0 1 0 1.30 0a0.65 0.65 0 1 0 -1.30 0ZM212.63 102.20a0.65 0.65 0 1 0 1.30 0a0.65 0.65 0 1 0 -1.30 0ZM225.96 102.20a0.65 0.65 0 1 0 1.30 0a0.65 0.65 0 1 0 -1.30 0ZM239.29 102.20a0.65 0.65 0 1 0 1.30 0a0.65 0.65 0 1 0 -1.30 0ZM252.62 102.20a0.65 0.65 0 1 0 1.30 0a0.65 0.65 0 1 0 -1.30 0ZM265.95 102.20a0.65 0.65 0 1 0 1.30 0a0.65 0.65 0 1 0 -1.30 0Z" fill="#000"/>
<use href="#land"/>
</g>
<use href="#ticks"/>
<rect x="0" y="0" width="307.1" height="102.4" fill="none" stroke="#000" stroke-width="1.2"/>
</g>
<path d="M640 565.9H656" stroke="#000" stroke-width="1.5"/><path d="M655 564.0L662 565.9L655 567.8Z" fill="#000"/>
<g class="tx">
<text x="30.2" y="54.8" font-size="13" text-anchor="end">15°N</text>
<text x="30.2" y="80.4" font-size="13" text-anchor="end">0°</text>
<text x="30.2" y="106.0" font-size="13" text-anchor="end">15°S</text>
<text x="30.2" y="192.7" font-size="13" text-anchor="end">15°N</text>
<text x="30.2" y="218.3" font-size="13" text-anchor="end">0°</text>
<text x="30.2" y="243.9" font-size="13" text-anchor="end">15°S</text>
<text x="30.2" y="330.2" font-size="13" text-anchor="end">15°N</text>
<text x="30.2" y="355.8" font-size="13" text-anchor="end">0°</text>
<text x="30.2" y="381.4" font-size="13" text-anchor="end">15°S</text>
<text x="30.2" y="467.8" font-size="13" text-anchor="end">15°N</text>
<text x="30.2" y="493.4" font-size="13" text-anchor="end">0°</text>
<text x="30.2" y="519.0" font-size="13" text-anchor="end">15°S</text>
<text x="30.2" y="605.2" font-size="13" text-anchor="end">15°N</text>
<text x="30.2" y="630.8" font-size="13" text-anchor="end">0°</text>
<text x="30.2" y="656.4" font-size="13" text-anchor="end">15°S</text>
<text x="36.6" y="12.2" font-size="13.6" textLength="227.7" lengthAdjust="spacingAndGlyphs"><tspan font-weight="bold">(A)</tspan> EC-Earth 3.1: MH<tspan font-size="9.3" font-style="italic" dy="2.4">GS</tspan><tspan dy="-2.4"> - MH</tspan><tspan font-size="9.3" font-style="italic" dy="2.4">REF</tspan></text>
<text x="36.6" y="150.1" font-size="13.6" textLength="208.5" lengthAdjust="spacingAndGlyphs"><tspan font-weight="bold">(B)</tspan> iCESM 1.2: MH<tspan font-size="9.3" font-style="italic" dy="2.4">GS</tspan><tspan dy="-2.4"> - MH</tspan><tspan font-size="9.3" font-style="italic" dy="2.4">REF</tspan></text>
<text x="36.6" y="287.6" font-size="13.6" textLength="225.9" lengthAdjust="spacingAndGlyphs"><tspan font-weight="bold">(C)</tspan> UofT-CCSM4: MH<tspan font-size="9.3" font-style="italic" dy="2.4">GS</tspan><tspan dy="-2.4"> - MH</tspan><tspan font-size="9.3" font-style="italic" dy="2.4">REF</tspan></text>
<text x="36.6" y="425.2" font-size="13.6" textLength="225.5" lengthAdjust="spacingAndGlyphs"><tspan font-weight="bold">(D)</tspan> GISS-E2.1-G: MH<tspan font-size="9.3" font-style="italic" dy="2.4">GS</tspan><tspan dy="-2.4"> - MH</tspan><tspan font-size="9.3" font-style="italic" dy="2.4">REF</tspan></text>
<text x="36.6" y="562.6" font-size="13.6" textLength="194.3" lengthAdjust="spacingAndGlyphs"><tspan font-weight="bold">(E)</tspan> HadCM3: MH<tspan font-size="9.3" font-style="italic" dy="2.4">GS</tspan><tspan dy="-2.4"> - MH</tspan><tspan font-size="9.3" font-style="italic" dy="2.4">REF</tspan></text>
<text x="35.4" y="691.5" font-size="13" text-anchor="middle">120°E</text>
<text x="374.7" y="691.5" font-size="13" text-anchor="middle">120°E</text>
<text x="103.6" y="691.5" font-size="13" text-anchor="middle">160°E</text>
<text x="442.9" y="691.5" font-size="13" text-anchor="middle">160°E</text>
<text x="171.9" y="691.5" font-size="13" text-anchor="middle">160°W</text>
<text x="511.2" y="691.5" font-size="13" text-anchor="middle">160°W</text>
<text x="240.1" y="691.5" font-size="13" text-anchor="middle">120°W</text>
<text x="579.4" y="691.5" font-size="13" text-anchor="middle">120°W</text>
<text x="308.4" y="691.5" font-size="13" text-anchor="middle">80°W</text>
<text x="647.7" y="691.5" font-size="13" text-anchor="middle">80°W</text>
</g>
<path d="M63.4 739.0L49.9 751.6L63.4 764.3Z" fill="#1c3767" stroke="#000" stroke-width="0.8"/><path d="M321.1 739.0L334.6 751.6L321.1 764.3Z" fill="#6a0b22" stroke="#000" stroke-width="0.8"/><rect x="63.40" y="739.0" width="26.07" height="25.3" fill="#1c3767"/><rect x="89.17" y="739.0" width="26.07" height="25.3" fill="#3e73b4"/><rect x="114.94" y="739.0" width="26.07" height="25.3" fill="#62a7cb"/><rect x="140.71" y="739.0" width="26.07" height="25.3" fill="#acd4e5"/><rect x="166.48" y="739.0" width="26.07" height="25.3" fill="#e2edf3"/><rect x="192.25" y="739.0" width="26.07" height="25.3" fill="#f3e6dc"/><rect x="218.02" y="739.0" width="26.07" height="25.3" fill="#ecb597"/><rect x="243.79" y="739.0" width="26.07" height="25.3" fill="#dc7561"/><rect x="269.56" y="739.0" width="26.07" height="25.3" fill="#bb2838"/><rect x="295.33" y="739.0" width="26.07" height="25.3" fill="#6a0b22"/><path d="M89.17 739.0V764.3" stroke="#000" stroke-width="0.7"/><path d="M114.94 739.0V764.3" stroke="#000" stroke-width="0.7"/><path d="M140.71 739.0V764.3" stroke="#000" stroke-width="0.7"/><path d="M166.48 739.0V764.3" stroke="#000" stroke-width="0.7"/><path d="M192.25 739.0V764.3" stroke="#000" stroke-width="0.7"/><path d="M218.02 739.0V764.3" stroke="#000" stroke-width="0.7"/><path d="M243.79 739.0V764.3" stroke="#000" stroke-width="0.7"/><path d="M269.56 739.0V764.3" stroke="#000" stroke-width="0.7"/><path d="M295.33 739.0V764.3" stroke="#000" stroke-width="0.7"/><rect x="63.4" y="739.0" width="257.7" height="25.3" fill="none" stroke="#000" stroke-width="0.9"/>
<path d="M396.5 739.0L383.3 751.6L396.5 764.3Z" fill="#553210" stroke="#000" stroke-width="0.8"/><path d="M653.9 739.0L667.1 751.6L653.9 764.3Z" fill="#1d4634" stroke="#000" stroke-width="0.8"/><rect x="396.50" y="739.0" width="32.47" height="25.3" fill="#553210"/><rect x="428.68" y="739.0" width="32.47" height="25.3" fill="#a06a2b"/><rect x="460.85" y="739.0" width="32.47" height="25.3" fill="#d2b772"/><rect x="493.02" y="739.0" width="32.47" height="25.3" fill="#f3eac9"/><rect x="525.20" y="739.0" width="32.47" height="25.3" fill="#d7f0ea"/><rect x="557.38" y="739.0" width="32.47" height="25.3" fill="#86cfbb"/><rect x="589.55" y="739.0" width="32.47" height="25.3" fill="#3c8b7a"/><rect x="621.72" y="739.0" width="32.47" height="25.3" fill="#1d4634"/><path d="M428.68 739.0V764.3" stroke="#000" stroke-width="0.7"/><path d="M460.85 739.0V764.3" stroke="#000" stroke-width="0.7"/><path d="M493.02 739.0V764.3" stroke="#000" stroke-width="0.7"/><path d="M525.20 739.0V764.3" stroke="#000" stroke-width="0.7"/><path d="M557.38 739.0V764.3" stroke="#000" stroke-width="0.7"/><path d="M589.55 739.0V764.3" stroke="#000" stroke-width="0.7"/><path d="M621.72 739.0V764.3" stroke="#000" stroke-width="0.7"/><rect x="396.5" y="739.0" width="257.4" height="25.3" fill="none" stroke="#000" stroke-width="0.9"/>
<g class="tx">
<path d="M89.2 764.3v4" stroke="#000" stroke-width="0.9"/>
<text x="89.2" y="780.6" font-size="13" text-anchor="middle" textLength="28.0" lengthAdjust="spacingAndGlyphs">−0.4</text>
<path d="M140.7 764.3v4" stroke="#000" stroke-width="0.9"/>
<text x="140.7" y="780.6" font-size="13" text-anchor="middle" textLength="28.0" lengthAdjust="spacingAndGlyphs">−0.2</text>
<path d="M192.3 764.3v4" stroke="#000" stroke-width="0.9"/>
<text x="192.3" y="780.6" font-size="13" text-anchor="middle" textLength="18.3" lengthAdjust="spacingAndGlyphs">0.0</text>
<path d="M243.8 764.3v4" stroke="#000" stroke-width="0.9"/>
<text x="243.8" y="780.6" font-size="13" text-anchor="middle" textLength="18.3" lengthAdjust="spacingAndGlyphs">0.2</text>
<path d="M295.3 764.3v4" stroke="#000" stroke-width="0.9"/>
<text x="295.3" y="780.6" font-size="13" text-anchor="middle" textLength="18.3" lengthAdjust="spacingAndGlyphs">0.4</text>
<path d="M396.5 764.3v4" stroke="#000" stroke-width="0.9"/>
<text x="396.5" y="780.6" font-size="13" text-anchor="middle" textLength="17.5" lengthAdjust="spacingAndGlyphs">−2</text>
<path d="M460.9 764.3v4" stroke="#000" stroke-width="0.9"/>
<text x="460.9" y="780.6" font-size="13" text-anchor="middle" textLength="17.5" lengthAdjust="spacingAndGlyphs">−1</text>
<path d="M525.2 764.3v4" stroke="#000" stroke-width="0.9"/>
<text x="525.2" y="780.6" font-size="13" text-anchor="middle" textLength="8.0" lengthAdjust="spacingAndGlyphs">0</text>
<path d="M589.5 764.3v4" stroke="#000" stroke-width="0.9"/>
<text x="589.5" y="780.6" font-size="13" text-anchor="middle" textLength="8.0" lengthAdjust="spacingAndGlyphs">1</text>
<path d="M653.9 764.3v4" stroke="#000" stroke-width="0.9"/>
<text x="653.9" y="780.6" font-size="13" text-anchor="middle" textLength="8.0" lengthAdjust="spacingAndGlyphs">2</text>
<text x="192.3" y="731.6" font-size="16" text-anchor="middle" textLength="127" lengthAdjust="spacingAndGlyphs">ΔSST<tspan font-size="11" font-style="italic" dy="3">SD : DJF</tspan><tspan dy="-3"> (</tspan><tspan font-style="italic" font-size="11" dy="-5">o</tspan><tspan font-style="italic" dy="5">C</tspan>)</text>
<text x="525" y="731.2" font-size="16" text-anchor="middle" textLength="158.4" lengthAdjust="spacingAndGlyphs">ΔPrec<tspan font-size="11" font-style="italic" dy="3">DJF</tspan><tspan dy="-3"> (mm/day)</tspan></text>
</g>
</svg></body></html>
